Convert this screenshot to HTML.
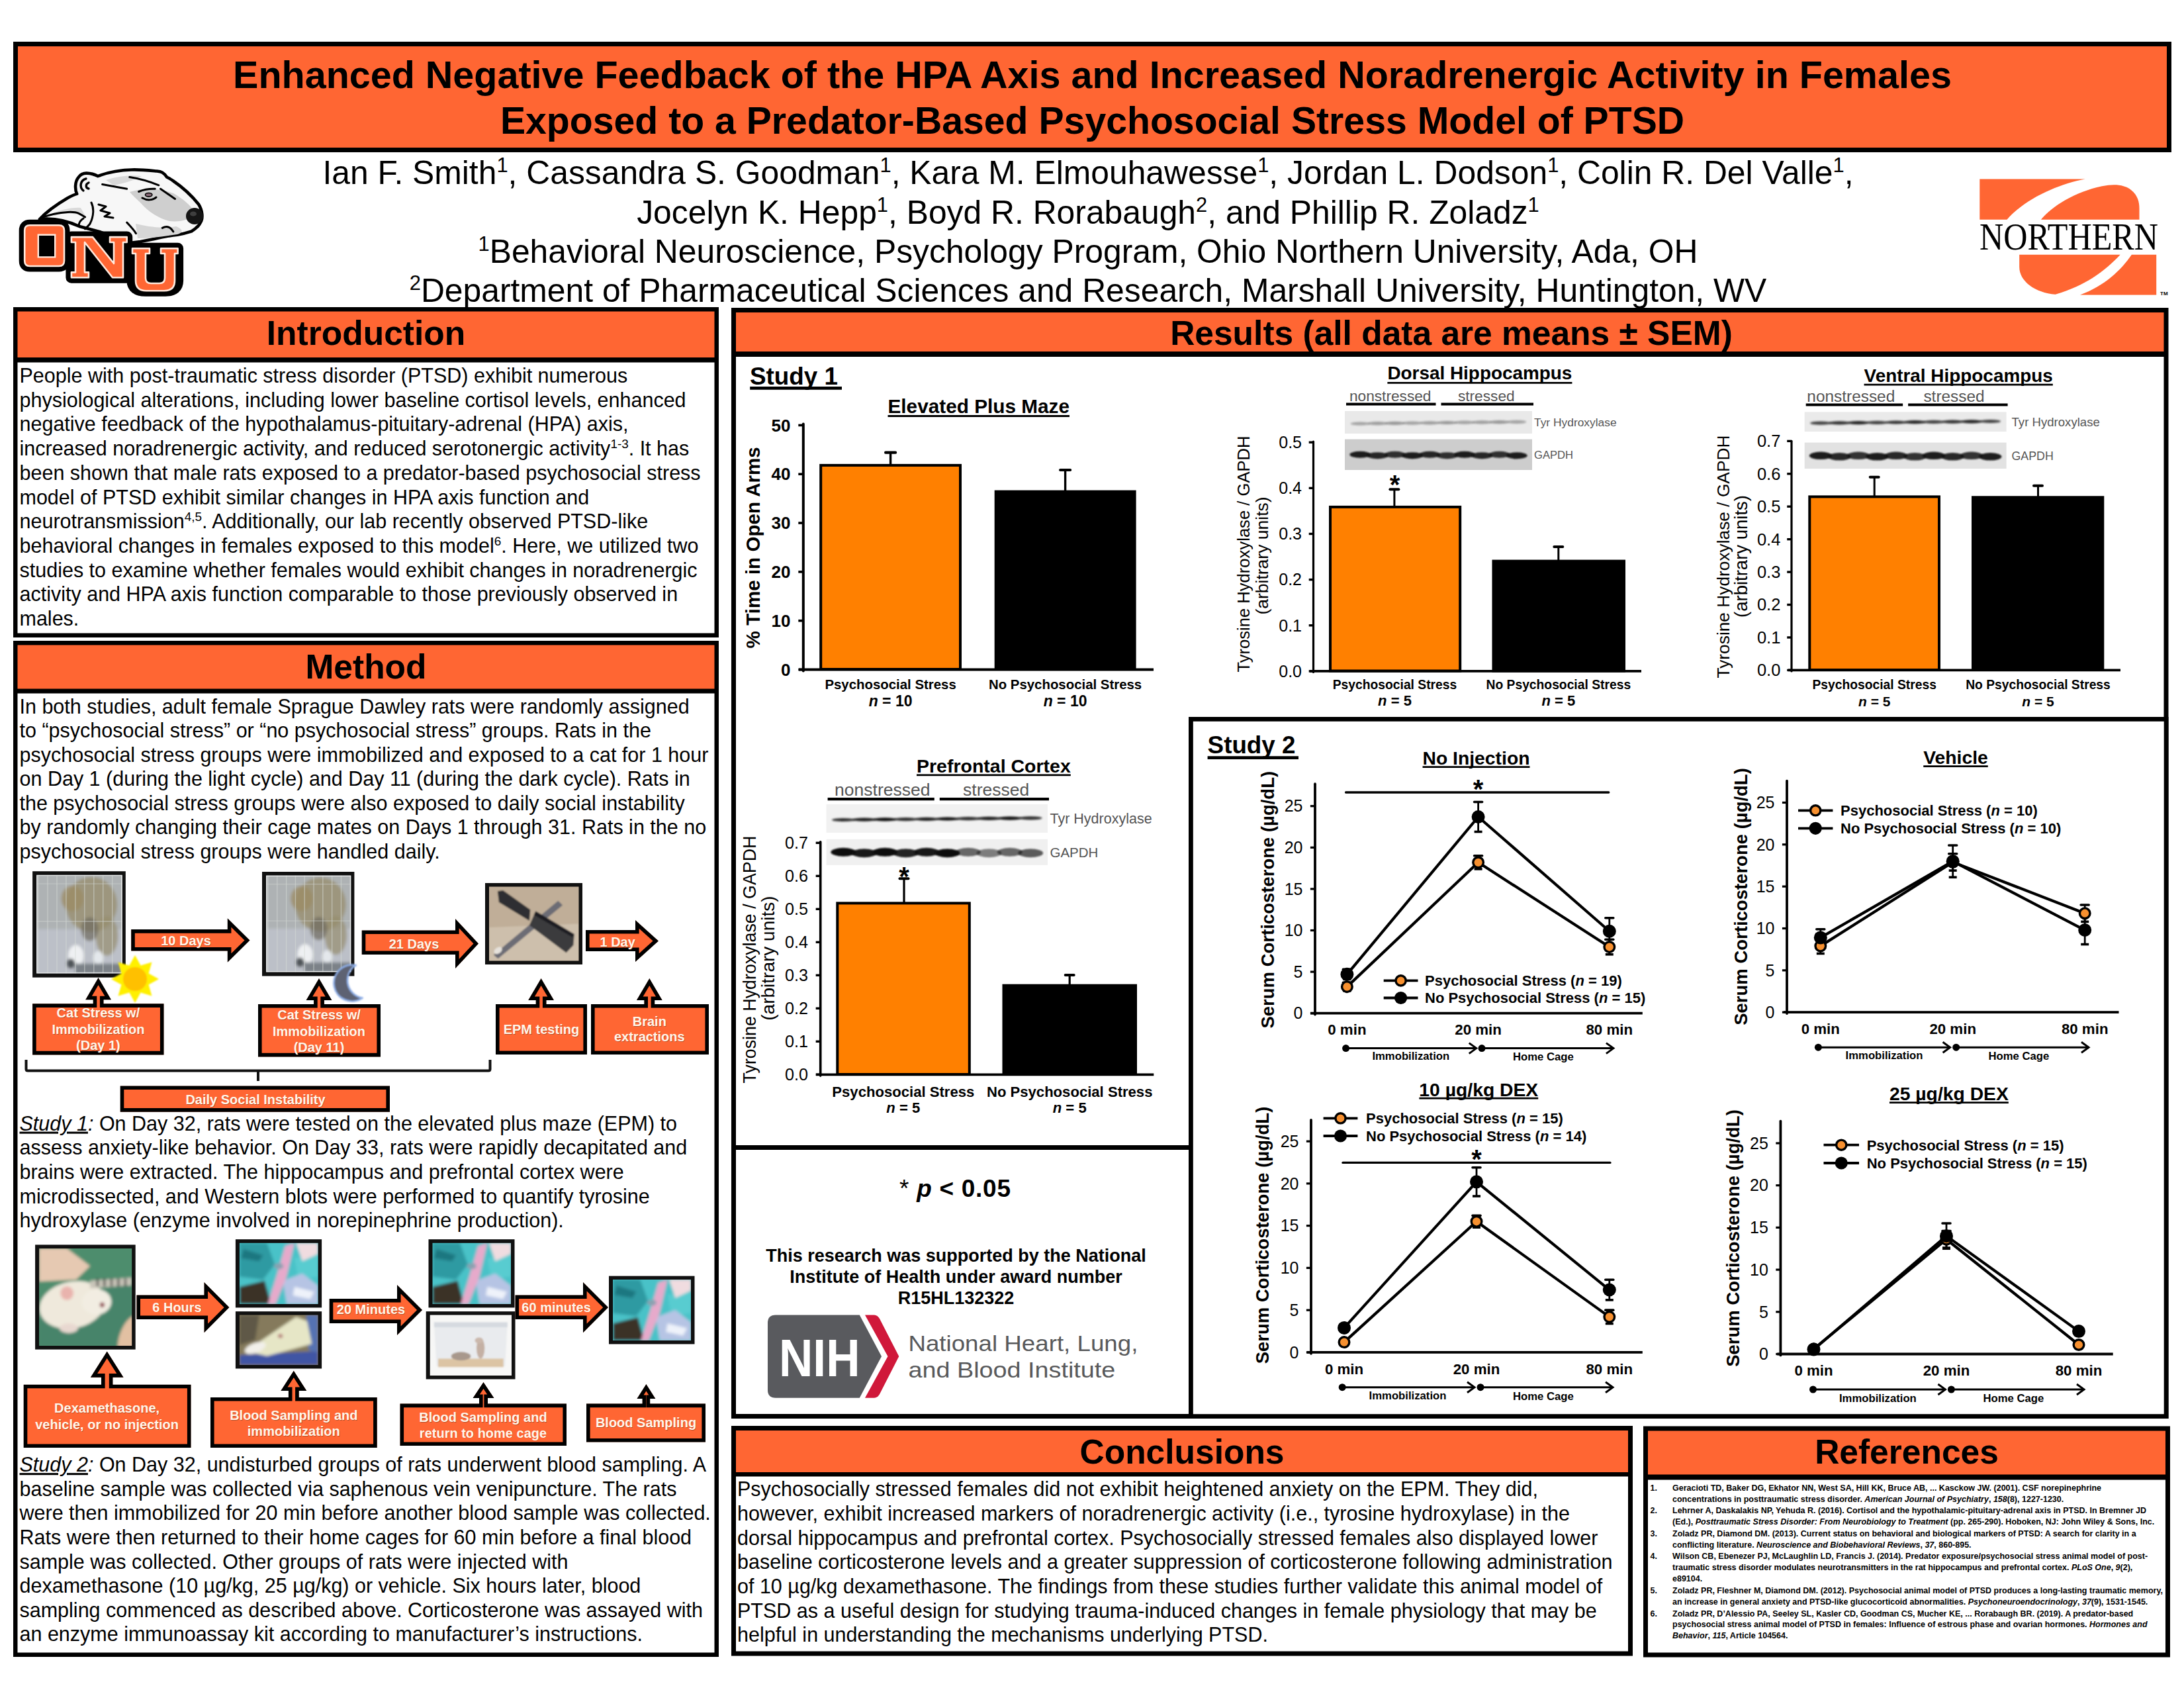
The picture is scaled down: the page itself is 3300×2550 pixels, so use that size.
<!DOCTYPE html>
<html><head><meta charset="utf-8"><title>Enhanced Negative Feedback of the HPA Axis - Poster</title>
<style>
html,body{margin:0;padding:0;background:#fff;}
body{width:3300px;height:2550px;overflow:hidden;font-family:"Liberation Sans",sans-serif;}
svg{display:block;}
text{font-family:"Liberation Sans",sans-serif;}
</style></head><body>
<svg width="3300" height="2550" viewBox="0 0 3300 2550" font-family="Liberation Sans, sans-serif">
<rect x="0" y="0" width="3300" height="2550" fill="#fff" />
<rect x="20" y="63" width="3261" height="167" fill="#000" />
<rect x="27" y="70" width="3247" height="153" fill="#FF6633" />
<text x="1650.5" y="133" font-size="57.5" font-weight="bold" text-anchor="middle" >Enhanced Negative Feedback of the HPA Axis and Increased Noradrenergic Activity in Females</text>
<text x="1650.5" y="201.5" font-size="57.2" font-weight="bold" text-anchor="middle" >Exposed to a Predator-Based Psychosocial Stress Model of PTSD</text>
<text x="1644" y="278" font-size="49.8" text-anchor="middle" >Ian F. Smith<tspan baseline-shift="17.93" font-size="30.88">1</tspan>, Cassandra S. Goodman<tspan baseline-shift="17.93" font-size="30.88">1</tspan>, Kara M. Elmouhawesse<tspan baseline-shift="17.93" font-size="30.88">1</tspan>, Jordan L. Dodson<tspan baseline-shift="17.93" font-size="30.88">1</tspan>, Colin R. Del Valle<tspan baseline-shift="17.93" font-size="30.88">1</tspan>,</text>
<text x="1644" y="337.5" font-size="49.8" text-anchor="middle" >Jocelyn K. Hepp<tspan baseline-shift="17.93" font-size="30.88">1</tspan>, Boyd R. Rorabaugh<tspan baseline-shift="17.93" font-size="30.88">2</tspan>, and Phillip R. Zoladz<tspan baseline-shift="17.93" font-size="30.88">1</tspan></text>
<text x="1644" y="397" font-size="49.8" text-anchor="middle" ><tspan baseline-shift="17.93" font-size="30.88">1</tspan>Behavioral Neuroscience, Psychology Program, Ohio Northern University, Ada, OH</text>
<text x="1644" y="456" font-size="49.8" text-anchor="middle" ><tspan baseline-shift="17.93" font-size="30.88">2</tspan>Department of Pharmaceutical Sciences and Research, Marshall University, Huntington, WV</text>
<rect x="20" y="464" width="1066" height="499" fill="#000" />
<rect x="26.5" y="470.5" width="1053" height="69.5" fill="#FF6633" />
<rect x="26.5" y="547.5" width="1053" height="409" fill="#fff" />
<text x="553" y="520.6" font-size="51.5" font-weight="bold" text-anchor="middle" >Introduction</text>
<rect x="20" y="968" width="1066" height="1535" fill="#000" />
<rect x="26.5" y="974.5" width="1053" height="66" fill="#FF6633" />
<rect x="26.5" y="1047.5" width="1053" height="1449" fill="#fff" />
<text x="553" y="1024.6" font-size="51.5" font-weight="bold" text-anchor="middle" >Method</text>
<rect x="1105" y="465" width="2171.5" height="1678" fill="#000" />
<rect x="1112" y="472" width="2157.5" height="59" fill="#FF6633" />
<rect x="1112" y="539" width="2157.5" height="1597" fill="#fff" />
<text x="2193" y="520.6" font-size="51.5" font-weight="bold" text-anchor="middle" >Results (all data are means ± SEM)</text>
<rect x="1105" y="2154" width="1362" height="347.5" fill="#000" />
<rect x="1112" y="2161" width="1348" height="63" fill="#FF6633" />
<rect x="1112" y="2230.5" width="1348" height="264" fill="#fff" />
<text x="1786" y="2211" font-size="51.5" font-weight="bold" text-anchor="middle" >Conclusions</text>
<rect x="2483" y="2154.5" width="796" height="349" fill="#000" />
<rect x="2490" y="2161.5" width="782" height="66" fill="#FF6633" />
<rect x="2490" y="2235.5" width="782" height="261" fill="#fff" />
<text x="2881" y="2211" font-size="51.5" font-weight="bold" text-anchor="middle" >References</text>
<rect x="1105" y="1730" width="697" height="7" fill="#000" />
<rect x="1799.4" y="1086.4" width="1473.7" height="1053.2" fill="#fff" stroke="#000" stroke-width="6.8" />
<text x="29.5" y="577.9" font-size="30.5" >People with post-traumatic stress disorder (PTSD) exhibit numerous</text>
<text x="29.5" y="614.62" font-size="30.5" >physiological alterations, including lower baseline cortisol levels, enhanced</text>
<text x="29.5" y="651.34" font-size="30.5" >negative feedback of the hypothalamus-pituitary-adrenal (HPA) axis,</text>
<text x="29.5" y="688.06" font-size="30.5" >increased noradrenergic activity, and reduced serotonergic activity<tspan baseline-shift="10.98" font-size="18.91">1-3</tspan>. It has</text>
<text x="29.5" y="724.78" font-size="30.5" >been shown that male rats exposed to a predator-based psychosocial stress</text>
<text x="29.5" y="761.5" font-size="30.5" >model of PTSD exhibit similar changes in HPA axis function and</text>
<text x="29.5" y="798.22" font-size="30.5" >neurotransmission<tspan baseline-shift="10.98" font-size="18.91">4,5</tspan>. Additionally, our lab recently observed PTSD-like</text>
<text x="29.5" y="834.94" font-size="30.5" >behavioral changes in females exposed to this model<tspan baseline-shift="10.98" font-size="18.91">6</tspan>. Here, we utilized two</text>
<text x="29.5" y="871.66" font-size="30.5" >studies to examine whether females would exhibit changes in noradrenergic</text>
<text x="29.5" y="908.38" font-size="30.5" >activity and HPA axis function comparable to those previously observed in</text>
<text x="29.5" y="945.1" font-size="30.5" >males.</text>
<text x="29.5" y="1077.8" font-size="30.5" >In both studies, adult female Sprague Dawley rats were randomly assigned</text>
<text x="29.5" y="1114.25" font-size="30.5" >to “psychosocial stress” or “no psychosocial stress” groups. Rats in the</text>
<text x="29.5" y="1150.7" font-size="30.5" >psychosocial stress groups were immobilized and exposed to a cat for 1 hour</text>
<text x="29.5" y="1187.15" font-size="30.5" >on Day 1 (during the light cycle) and Day 11 (during the dark cycle). Rats in</text>
<text x="29.5" y="1223.6" font-size="30.5" >the psychosocial stress groups were also exposed to daily social instability</text>
<text x="29.5" y="1260.05" font-size="30.5" >by randomly changing their cage mates on Days 1 through 31. Rats in the no</text>
<text x="29.5" y="1296.5" font-size="30.5" >psychosocial stress groups were handled daily.</text>
<text x="29.5" y="1707.6" font-size="30.5" ><tspan font-style="italic" text-decoration="underline">Study 1</tspan><tspan font-style="italic">:</tspan> On Day 32, rats were tested on the elevated plus maze (EPM) to</text>
<text x="29.5" y="1744.32" font-size="30.5" >assess anxiety-like behavior. On Day 33, rats were rapidly decapitated and</text>
<text x="29.5" y="1781.04" font-size="30.5" >brains were extracted. The hippocampus and prefrontal cortex were</text>
<text x="29.5" y="1817.76" font-size="30.5" >microdissected, and Western blots were performed to quantify tyrosine</text>
<text x="29.5" y="1854.48" font-size="30.5" >hydroxylase (enzyme involved in norepinephrine production).</text>
<text x="29.5" y="2223.2" font-size="30.5" ><tspan font-style="italic" text-decoration="underline">Study 2</tspan><tspan font-style="italic">:</tspan> On Day 32, undisturbed groups of rats underwent blood sampling. A</text>
<text x="29.5" y="2259.79" font-size="30.5" >baseline sample was collected via saphenous vein venipuncture. The rats</text>
<text x="29.5" y="2296.38" font-size="30.5" >were then immobilized for 20 min before another blood sample was collected.</text>
<text x="29.5" y="2332.97" font-size="30.5" >Rats were then returned to their home cages for 60 min before a final blood</text>
<text x="29.5" y="2369.56" font-size="30.5" >sample was collected. Other groups of rats were injected with</text>
<text x="29.5" y="2406.15" font-size="30.5" >dexamethasone (10 µg/kg, 25 µg/kg) or vehicle. Six hours later, blood</text>
<text x="29.5" y="2442.74" font-size="30.5" >sampling commenced as described above. Corticosterone was assayed with</text>
<text x="29.5" y="2479.33" font-size="30.5" >an enzyme immunoassay kit according to manufacturer’s instructions.</text>
<text x="1114" y="2260.4" font-size="30.5" >Psychosocially stressed females did not exhibit heightened anxiety on the EPM. They did,</text>
<text x="1114" y="2297.08" font-size="30.5" >however, exhibit increased markers of noradrenergic activity (i.e., tyrosine hydroxylase) in the</text>
<text x="1114" y="2333.76" font-size="30.5" >dorsal hippocampus and prefrontal cortex. Psychosocially stressed females also displayed lower</text>
<text x="1114" y="2370.44" font-size="30.5" >baseline corticosterone levels and a greater suppression of corticosterone following administration</text>
<text x="1114" y="2407.12" font-size="30.5" >of 10 µg/kg dexamethasone. The findings from these studies further validate this animal model of</text>
<text x="1114" y="2443.8" font-size="30.5" >PTSD as a useful design for studying trauma-induced changes in female physiology that may be</text>
<text x="1114" y="2480.48" font-size="30.5" >helpful in understanding the mechanisms underlying PTSD.</text>
<text x="2493.5" y="2251.8" font-size="12.5" font-weight="bold" >1.</text>
<text x="2527" y="2251.8" font-size="12.5" font-weight="bold" >Geracioti TD, Baker DG, Ekhator NN, West SA, Hill KK, Bruce AB, ... Kasckow JW. (2001). CSF norepinephrine</text>
<text x="2527" y="2268.75" font-size="12.5" font-weight="bold" >concentrations in posttraumatic stress disorder. <tspan font-style="italic">American Journal of Psychiatry</tspan>, <tspan font-style="italic">158</tspan>(8), 1227-1230.</text>
<text x="2493.5" y="2286.35" font-size="12.5" font-weight="bold" >2.</text>
<text x="2527" y="2286.35" font-size="12.5" font-weight="bold" >Lehrner A, Daskalakis NP, Yehuda R. (2016). Cortisol and the hypothalamic-pituitary-adrenal axis in PTSD. In Bremner JD</text>
<text x="2527" y="2303.3" font-size="12.5" font-weight="bold" >(Ed.), <tspan font-style="italic">Posttraumatic Stress Disorder: From Neurobiology to Treatment</tspan> (pp. 265-290). Hoboken, NJ: John Wiley &amp; Sons, Inc.</text>
<text x="2493.5" y="2320.9" font-size="12.5" font-weight="bold" >3.</text>
<text x="2527" y="2320.9" font-size="12.5" font-weight="bold" >Zoladz PR, Diamond DM. (2013). Current status on behavioral and biological markers of PTSD: A search for clarity in a</text>
<text x="2527" y="2337.85" font-size="12.5" font-weight="bold" >conflicting literature. <tspan font-style="italic">Neuroscience and Biobehavioral Reviews</tspan>, <tspan font-style="italic">37</tspan>, 860-895.</text>
<text x="2493.5" y="2355.45" font-size="12.5" font-weight="bold" >4.</text>
<text x="2527" y="2355.45" font-size="12.5" font-weight="bold" >Wilson CB, Ebenezer PJ, McLaughlin LD, Francis J. (2014). Predator exposure/psychosocial stress animal model of post-</text>
<text x="2527" y="2372.4" font-size="12.5" font-weight="bold" >traumatic stress disorder modulates neurotransmitters in the rat hippocampus and prefrontal cortex. <tspan font-style="italic">PLoS One</tspan>, <tspan font-style="italic">9</tspan>(2),</text>
<text x="2527" y="2389.35" font-size="12.5" font-weight="bold" >e89104.</text>
<text x="2493.5" y="2406.95" font-size="12.5" font-weight="bold" >5.</text>
<text x="2527" y="2406.95" font-size="12.5" font-weight="bold" >Zoladz PR, Fleshner M, Diamond DM. (2012). Psychosocial animal model of PTSD produces a long-lasting traumatic memory,</text>
<text x="2527" y="2423.9" font-size="12.5" font-weight="bold" >an increase in general anxiety and PTSD-like glucocorticoid abnormalities. <tspan font-style="italic">Psychoneuroendocrinology</tspan>, <tspan font-style="italic">37</tspan>(9), 1531-1545.</text>
<text x="2493.5" y="2441.5" font-size="12.5" font-weight="bold" >6.</text>
<text x="2527" y="2441.5" font-size="12.5" font-weight="bold" >Zoladz PR, D’Alessio PA, Seeley SL, Kasler CD, Goodman CS, Mucher KE, ... Rorabaugh BR. (2019). A predator-based</text>
<text x="2527" y="2458.45" font-size="12.5" font-weight="bold" >psychosocial stress animal model of PTSD in females: Influence of estrous phase and ovarian hormones. <tspan font-style="italic">Hormones and</tspan></text>
<text x="2527" y="2475.4" font-size="12.5" font-weight="bold" ><tspan font-style="italic">Behavior</tspan>, <tspan font-style="italic">115</tspan>, Article 104564.</text>
<defs><filter id="bl1" x="-5%" y="-50%" width="110%" height="200%"><feGaussianBlur stdDeviation="1.6"/></filter><filter id="bl2" x="-5%" y="-50%" width="110%" height="200%"><feGaussianBlur stdDeviation="1.0"/></filter></defs>
<text x="1133" y="580.8" font-size="36.8" font-weight="bold" >Study 1</text>
<line x1="1133.2" y1="586.4" x2="1272" y2="586.4" stroke="#000" stroke-width="4.6" />
<text x="1478.75" y="624" font-size="29.75" font-weight="bold" text-anchor="middle" >Elevated Plus Maze</text>
<line x1="1341.51" y1="628.6" x2="1615.99" y2="628.6" stroke="#000" stroke-width="3" />
<line x1="1213.8" y1="640.5" x2="1213.8" y2="1013.5" stroke="#000" stroke-width="4" stroke-linecap="round"/>
<line x1="1206.3" y1="1011.5" x2="1213.8" y2="1011.5" stroke="#000" stroke-width="3.6" />
<text x="1194.5" y="1020.6" font-size="26" font-weight="bold" text-anchor="end" >0</text>
<line x1="1206.3" y1="937.68" x2="1213.8" y2="937.68" stroke="#000" stroke-width="3.6" />
<text x="1194.5" y="946.78" font-size="26" font-weight="bold" text-anchor="end" >10</text>
<line x1="1206.3" y1="863.86" x2="1213.8" y2="863.86" stroke="#000" stroke-width="3.6" />
<text x="1194.5" y="872.96" font-size="26" font-weight="bold" text-anchor="end" >20</text>
<line x1="1206.3" y1="790.04" x2="1213.8" y2="790.04" stroke="#000" stroke-width="3.6" />
<text x="1194.5" y="799.14" font-size="26" font-weight="bold" text-anchor="end" >30</text>
<line x1="1206.3" y1="716.22" x2="1213.8" y2="716.22" stroke="#000" stroke-width="3.6" />
<text x="1194.5" y="725.32" font-size="26" font-weight="bold" text-anchor="end" >40</text>
<line x1="1206.3" y1="642.4" x2="1213.8" y2="642.4" stroke="#000" stroke-width="3.6" />
<text x="1194.5" y="651.5" font-size="26" font-weight="bold" text-anchor="end" >50</text>
<line x1="1207" y1="1011.5" x2="1743" y2="1011.5" stroke="#000" stroke-width="4" />
<line x1="1345.6" y1="683.7" x2="1345.6" y2="702" stroke="#000" stroke-width="3.4" />
<line x1="1338.1" y1="683.7" x2="1353.1" y2="683.7" stroke="#000" stroke-width="4.2" stroke-linecap="round"/>
<rect x="1240.2" y="702.9" width="210.8" height="308.1" fill="#FF8000" stroke="#000" stroke-width="4" />
<line x1="1609.6" y1="710" x2="1609.6" y2="741" stroke="#000" stroke-width="3.4" />
<line x1="1602.1" y1="710" x2="1617.1" y2="710" stroke="#000" stroke-width="4.2" stroke-linecap="round"/>
<rect x="1502.7" y="740.6" width="213.9" height="272.4" fill="#000" />
<text x="0" y="0" font-size="29.6" text-anchor="middle" transform="translate(1147.5 827.3) rotate(-90)" font-weight="bold">% Time in Open Arms</text>
<text x="1345.6" y="1040.8" font-size="20.4" font-weight="bold" text-anchor="middle" >Psychosocial Stress</text>
<text x="1345.6" y="1066.8" font-size="23" font-weight="bold" text-anchor="middle" ><tspan font-style="italic">n</tspan> = 10</text>
<text x="1609.6" y="1040.8" font-size="20.4" font-weight="bold" text-anchor="middle" >No Psychosocial Stress</text>
<text x="1609.6" y="1066.8" font-size="23" font-weight="bold" text-anchor="middle" ><tspan font-style="italic">n</tspan> = 10</text>
<text x="2235.9" y="573.3" font-size="27.9" font-weight="bold" text-anchor="middle" >Dorsal Hippocampus</text>
<line x1="2096.37" y1="578.3" x2="2375.43" y2="578.3" stroke="#000" stroke-width="2.8" />
<text x="2100.7" y="606" font-size="22.7" text-anchor="middle" fill="#555" >nonstressed</text>
<text x="2245.8" y="606" font-size="22.7" text-anchor="middle" fill="#555" >stressed</text>
<line x1="2034" y1="610.5" x2="2169.5" y2="610.5" stroke="#000" stroke-width="4.2" />
<line x1="2177.5" y1="610.5" x2="2317" y2="610.5" stroke="#000" stroke-width="4.2" />
<rect x="2032" y="621" width="283" height="34" fill="#e9e9e9" />
<ellipse cx="2055.15" cy="640" rx="14.47" ry="2.6" fill="#000" opacity="0.3" filter="url(#bl1)"/>
<ellipse cx="2081.45" cy="639.7" rx="14.47" ry="2.6" fill="#000" opacity="0.32" filter="url(#bl1)"/>
<ellipse cx="2107.75" cy="639.4" rx="14.47" ry="2.6" fill="#000" opacity="0.35" filter="url(#bl1)"/>
<ellipse cx="2134.05" cy="639.1" rx="14.47" ry="2.6" fill="#000" opacity="0.3" filter="url(#bl1)"/>
<ellipse cx="2160.35" cy="638.8" rx="14.47" ry="2.6" fill="#000" opacity="0.32" filter="url(#bl1)"/>
<ellipse cx="2186.65" cy="638.5" rx="14.47" ry="2.6" fill="#000" opacity="0.35" filter="url(#bl1)"/>
<ellipse cx="2212.95" cy="638.2" rx="14.47" ry="2.6" fill="#000" opacity="0.3" filter="url(#bl1)"/>
<ellipse cx="2239.25" cy="637.9" rx="14.47" ry="2.6" fill="#000" opacity="0.32" filter="url(#bl1)"/>
<ellipse cx="2265.55" cy="637.6" rx="14.47" ry="2.6" fill="#000" opacity="0.35" filter="url(#bl1)"/>
<ellipse cx="2291.85" cy="637.3" rx="14.47" ry="2.6" fill="#000" opacity="0.3" filter="url(#bl1)"/>
<rect x="2032" y="663.5" width="283" height="46.5" fill="#cdcdcd" />
<ellipse cx="2055.15" cy="686.75" rx="15.78" ry="5" fill="#111" opacity="0.92" filter="url(#bl2)"/>
<ellipse cx="2081.45" cy="688.25" rx="15.78" ry="5" fill="#111" opacity="0.87" filter="url(#bl2)"/>
<ellipse cx="2107.75" cy="686.75" rx="15.78" ry="5" fill="#111" opacity="0.82" filter="url(#bl2)"/>
<ellipse cx="2134.05" cy="688.25" rx="15.78" ry="5" fill="#111" opacity="0.92" filter="url(#bl2)"/>
<ellipse cx="2160.35" cy="686.75" rx="15.78" ry="5" fill="#111" opacity="0.87" filter="url(#bl2)"/>
<ellipse cx="2186.65" cy="688.25" rx="15.78" ry="5" fill="#111" opacity="0.82" filter="url(#bl2)"/>
<ellipse cx="2212.95" cy="686.75" rx="15.78" ry="5" fill="#111" opacity="0.92" filter="url(#bl2)"/>
<ellipse cx="2239.25" cy="688.25" rx="15.78" ry="5" fill="#111" opacity="0.87" filter="url(#bl2)"/>
<ellipse cx="2265.55" cy="686.75" rx="15.78" ry="5" fill="#111" opacity="0.82" filter="url(#bl2)"/>
<ellipse cx="2291.85" cy="688.25" rx="15.78" ry="5" fill="#111" opacity="0.92" filter="url(#bl2)"/>
<text x="2318" y="644.26" font-size="17.4" fill="#555" >Tyr Hydroxylase</text>
<text x="2318" y="692.73" font-size="16.6" fill="#555" >GAPDH</text>
<line x1="1984.5" y1="667" x2="1984.5" y2="1015.5" stroke="#000" stroke-width="3.2" stroke-linecap="round"/>
<line x1="1977.7" y1="1013.9" x2="1984.5" y2="1013.9" stroke="#000" stroke-width="3.4" />
<text x="1967" y="1022.65" font-size="25" text-anchor="end" >0.0</text>
<line x1="1977.7" y1="944.76" x2="1984.5" y2="944.76" stroke="#000" stroke-width="3.4" />
<text x="1967" y="953.51" font-size="25" text-anchor="end" >0.1</text>
<line x1="1977.7" y1="875.62" x2="1984.5" y2="875.62" stroke="#000" stroke-width="3.4" />
<text x="1967" y="884.37" font-size="25" text-anchor="end" >0.2</text>
<line x1="1977.7" y1="806.48" x2="1984.5" y2="806.48" stroke="#000" stroke-width="3.4" />
<text x="1967" y="815.23" font-size="25" text-anchor="end" >0.3</text>
<line x1="1977.7" y1="737.34" x2="1984.5" y2="737.34" stroke="#000" stroke-width="3.4" />
<text x="1967" y="746.09" font-size="25" text-anchor="end" >0.4</text>
<line x1="1977.7" y1="668.2" x2="1984.5" y2="668.2" stroke="#000" stroke-width="3.4" />
<text x="1967" y="676.95" font-size="25" text-anchor="end" >0.5</text>
<line x1="1978.8" y1="1013.9" x2="2480" y2="1013.9" stroke="#000" stroke-width="3.6" />
<line x1="2106.9" y1="739.2" x2="2106.9" y2="765" stroke="#000" stroke-width="3" />
<line x1="2100.4" y1="739.2" x2="2113.4" y2="739.2" stroke="#000" stroke-width="4" stroke-linecap="round"/>
<rect x="2010" y="765.9" width="196.2" height="247.6" fill="#FF8000" stroke="#000" stroke-width="4" />
<line x1="2354.8" y1="826" x2="2354.8" y2="846" stroke="#000" stroke-width="3" />
<line x1="2348.3" y1="826" x2="2361.3" y2="826" stroke="#000" stroke-width="4" stroke-linecap="round"/>
<rect x="2254.5" y="845.6" width="201.5" height="169.9" fill="#000" />
<text x="2107.5" y="745.8" font-size="40" font-weight="bold" text-anchor="middle" >*</text>
<text x="0" y="0" font-size="25.6" text-anchor="middle" transform="translate(1888 837) rotate(-90)">Tyrosine Hydroxylase / GAPDH</text>
<text x="0" y="0" font-size="26.5" text-anchor="middle" transform="translate(1915.5 839.5) rotate(-90)">(arbitrary units)</text>
<text x="2107.5" y="1041" font-size="19.3" font-weight="bold" text-anchor="middle" >Psychosocial Stress</text>
<text x="2107.5" y="1066.3" font-size="22" font-weight="bold" text-anchor="middle" ><tspan font-style="italic">n</tspan> = 5</text>
<text x="2354.8" y="1041" font-size="19.3" font-weight="bold" text-anchor="middle" >No Psychosocial Stress</text>
<text x="2354.8" y="1066.3" font-size="22" font-weight="bold" text-anchor="middle" ><tspan font-style="italic">n</tspan> = 5</text>
<text x="2959.2" y="577" font-size="27.9" font-weight="bold" text-anchor="middle" >Ventral Hippocampus</text>
<line x1="2816.56" y1="581.2" x2="3101.84" y2="581.2" stroke="#000" stroke-width="2.8" />
<text x="2796.8" y="607" font-size="24.4" text-anchor="middle" fill="#555" >nonstressed</text>
<text x="2952.5" y="607" font-size="24.4" text-anchor="middle" fill="#555" >stressed</text>
<line x1="2728.7" y1="611.5" x2="2875.15" y2="611.5" stroke="#000" stroke-width="4.2" />
<line x1="2883.15" y1="611.5" x2="3033.6" y2="611.5" stroke="#000" stroke-width="4.2" />
<rect x="2726.7" y="622.4" width="304.9" height="29.6" fill="#eaeaea" />
<ellipse cx="2750.94" cy="639.2" rx="15.67" ry="2.6" fill="#000" opacity="0.72" filter="url(#bl1)"/>
<ellipse cx="2779.43" cy="638.9" rx="15.67" ry="2.6" fill="#000" opacity="0.79" filter="url(#bl1)"/>
<ellipse cx="2807.92" cy="638.6" rx="15.67" ry="2.6" fill="#000" opacity="0.85" filter="url(#bl1)"/>
<ellipse cx="2836.41" cy="638.3" rx="15.67" ry="2.6" fill="#000" opacity="0.72" filter="url(#bl1)"/>
<ellipse cx="2864.9" cy="638" rx="15.67" ry="2.6" fill="#000" opacity="0.79" filter="url(#bl1)"/>
<ellipse cx="2893.39" cy="637.7" rx="15.67" ry="2.6" fill="#000" opacity="0.85" filter="url(#bl1)"/>
<ellipse cx="2921.88" cy="637.4" rx="15.67" ry="2.6" fill="#000" opacity="0.72" filter="url(#bl1)"/>
<ellipse cx="2950.38" cy="637.1" rx="15.67" ry="2.6" fill="#000" opacity="0.79" filter="url(#bl1)"/>
<ellipse cx="2978.86" cy="636.8" rx="15.67" ry="2.6" fill="#000" opacity="0.85" filter="url(#bl1)"/>
<ellipse cx="3007.35" cy="636.5" rx="15.67" ry="2.6" fill="#000" opacity="0.72" filter="url(#bl1)"/>
<rect x="2726.7" y="668.6" width="304.9" height="39.4" fill="#e2e2e2" />
<ellipse cx="2750.94" cy="688.3" rx="17.09" ry="5.8" fill="#111" opacity="0.92" filter="url(#bl2)"/>
<ellipse cx="2779.43" cy="689.8" rx="17.09" ry="5.8" fill="#111" opacity="0.87" filter="url(#bl2)"/>
<ellipse cx="2807.92" cy="688.3" rx="17.09" ry="5.8" fill="#111" opacity="0.82" filter="url(#bl2)"/>
<ellipse cx="2836.41" cy="689.8" rx="17.09" ry="5.8" fill="#111" opacity="0.92" filter="url(#bl2)"/>
<ellipse cx="2864.9" cy="688.3" rx="17.09" ry="5.8" fill="#111" opacity="0.87" filter="url(#bl2)"/>
<ellipse cx="2893.39" cy="689.8" rx="17.09" ry="5.8" fill="#111" opacity="0.82" filter="url(#bl2)"/>
<ellipse cx="2921.88" cy="688.3" rx="17.09" ry="5.8" fill="#111" opacity="0.92" filter="url(#bl2)"/>
<ellipse cx="2950.38" cy="689.8" rx="17.09" ry="5.8" fill="#111" opacity="0.87" filter="url(#bl2)"/>
<ellipse cx="2978.86" cy="688.3" rx="17.09" ry="5.8" fill="#111" opacity="0.82" filter="url(#bl2)"/>
<ellipse cx="3007.35" cy="689.8" rx="17.09" ry="5.8" fill="#111" opacity="0.92" filter="url(#bl2)"/>
<text x="3039.5" y="643.9" font-size="18.6" fill="#555" >Tyr Hydroxylase</text>
<text x="3039.5" y="694.71" font-size="17.8" fill="#555" >GAPDH</text>
<line x1="2707" y1="666.3" x2="2707" y2="1014" stroke="#000" stroke-width="3.2" stroke-linecap="round"/>
<line x1="2700.2" y1="1012.4" x2="2707" y2="1012.4" stroke="#000" stroke-width="3.4" />
<text x="2690.4" y="1021.32" font-size="25.5" text-anchor="end" >0.0</text>
<line x1="2700.2" y1="962.96" x2="2707" y2="962.96" stroke="#000" stroke-width="3.4" />
<text x="2690.4" y="971.88" font-size="25.5" text-anchor="end" >0.1</text>
<line x1="2700.2" y1="913.52" x2="2707" y2="913.52" stroke="#000" stroke-width="3.4" />
<text x="2690.4" y="922.44" font-size="25.5" text-anchor="end" >0.2</text>
<line x1="2700.2" y1="864.08" x2="2707" y2="864.08" stroke="#000" stroke-width="3.4" />
<text x="2690.4" y="873" font-size="25.5" text-anchor="end" >0.3</text>
<line x1="2700.2" y1="814.64" x2="2707" y2="814.64" stroke="#000" stroke-width="3.4" />
<text x="2690.4" y="823.56" font-size="25.5" text-anchor="end" >0.4</text>
<line x1="2700.2" y1="765.2" x2="2707" y2="765.2" stroke="#000" stroke-width="3.4" />
<text x="2690.4" y="774.12" font-size="25.5" text-anchor="end" >0.5</text>
<line x1="2700.2" y1="715.76" x2="2707" y2="715.76" stroke="#000" stroke-width="3.4" />
<text x="2690.4" y="724.68" font-size="25.5" text-anchor="end" >0.6</text>
<line x1="2700.2" y1="666.32" x2="2707" y2="666.32" stroke="#000" stroke-width="3.4" />
<text x="2690.4" y="675.24" font-size="25.5" text-anchor="end" >0.7</text>
<line x1="2702" y1="1012.4" x2="3204" y2="1012.4" stroke="#000" stroke-width="3.6" />
<line x1="2832.2" y1="720.7" x2="2832.2" y2="749" stroke="#000" stroke-width="3" />
<line x1="2825.7" y1="720.7" x2="2838.7" y2="720.7" stroke="#000" stroke-width="4" stroke-linecap="round"/>
<rect x="2734.3" y="750.4" width="195.7" height="261.6" fill="#FF8000" stroke="#000" stroke-width="4" />
<line x1="3079.5" y1="733.8" x2="3079.5" y2="750" stroke="#000" stroke-width="3" />
<line x1="3073" y1="733.8" x2="3086" y2="733.8" stroke="#000" stroke-width="4" stroke-linecap="round"/>
<rect x="2979" y="749.3" width="200.3" height="264.7" fill="#000" />
<text x="0" y="0" font-size="26.3" text-anchor="middle" transform="translate(2613 841) rotate(-90)">Tyrosine Hydroxylase / GAPDH</text>
<text x="0" y="0" font-size="27.5" text-anchor="middle" transform="translate(2640 840.5) rotate(-90)">(arbitrary units)</text>
<text x="2832.2" y="1041" font-size="19.3" font-weight="bold" text-anchor="middle" >Psychosocial Stress</text>
<text x="2832.2" y="1067" font-size="21" font-weight="bold" text-anchor="middle" ><tspan font-style="italic">n</tspan> = 5</text>
<text x="3079.5" y="1041" font-size="19.3" font-weight="bold" text-anchor="middle" >No Psychosocial Stress</text>
<text x="3079.5" y="1067" font-size="21" font-weight="bold" text-anchor="middle" ><tspan font-style="italic">n</tspan> = 5</text>
<text x="1501.4" y="1167" font-size="28.5" font-weight="bold" text-anchor="middle" >Prefrontal Cortex</text>
<line x1="1385" y1="1170.8" x2="1617.8" y2="1170.8" stroke="#000" stroke-width="2.8" />
<text x="1333.3" y="1202" font-size="26.5" text-anchor="middle" fill="#555" >nonstressed</text>
<text x="1505.2" y="1202" font-size="26.5" text-anchor="middle" fill="#555" >stressed</text>
<line x1="1250.6" y1="1207.2" x2="1411.8" y2="1207.2" stroke="#000" stroke-width="4.2" />
<line x1="1419.8" y1="1207.2" x2="1585" y2="1207.2" stroke="#000" stroke-width="4.2" />
<rect x="1248.6" y="1215" width="334.4" height="43" fill="#f1f1f1" />
<ellipse cx="1274.32" cy="1238.5" rx="17.29" ry="2.6" fill="#000" opacity="0.81" filter="url(#bl1)"/>
<ellipse cx="1305.76" cy="1238.2" rx="17.29" ry="2.6" fill="#000" opacity="0.88" filter="url(#bl1)"/>
<ellipse cx="1337.2" cy="1237.9" rx="17.29" ry="2.6" fill="#000" opacity="0.95" filter="url(#bl1)"/>
<ellipse cx="1368.64" cy="1237.6" rx="17.29" ry="2.6" fill="#000" opacity="0.81" filter="url(#bl1)"/>
<ellipse cx="1400.08" cy="1237.3" rx="17.29" ry="2.6" fill="#000" opacity="0.88" filter="url(#bl1)"/>
<ellipse cx="1431.52" cy="1237" rx="17.29" ry="2.6" fill="#000" opacity="0.95" filter="url(#bl1)"/>
<ellipse cx="1462.96" cy="1236.7" rx="17.29" ry="2.6" fill="#000" opacity="0.81" filter="url(#bl1)"/>
<ellipse cx="1494.4" cy="1236.4" rx="17.29" ry="2.6" fill="#000" opacity="0.88" filter="url(#bl1)"/>
<ellipse cx="1525.84" cy="1236.1" rx="17.29" ry="2.6" fill="#000" opacity="0.95" filter="url(#bl1)"/>
<ellipse cx="1557.28" cy="1235.8" rx="17.29" ry="2.6" fill="#000" opacity="0.81" filter="url(#bl1)"/>
<rect x="1248.6" y="1267.7" width="334.4" height="39.1" fill="#f0f0f0" />
<ellipse cx="1274.32" cy="1287.25" rx="18.86" ry="6.5" fill="#111" opacity="1" filter="url(#bl2)"/>
<ellipse cx="1305.76" cy="1288.75" rx="18.86" ry="6.5" fill="#111" opacity="0.95" filter="url(#bl2)"/>
<ellipse cx="1337.2" cy="1287.25" rx="18.86" ry="6.5" fill="#111" opacity="1" filter="url(#bl2)"/>
<ellipse cx="1368.64" cy="1288.75" rx="18.86" ry="6.5" fill="#111" opacity="0.9" filter="url(#bl2)"/>
<ellipse cx="1400.08" cy="1287.25" rx="18.86" ry="6.5" fill="#111" opacity="0.95" filter="url(#bl2)"/>
<ellipse cx="1431.52" cy="1288.75" rx="18.86" ry="6.5" fill="#111" opacity="1" filter="url(#bl2)"/>
<ellipse cx="1462.96" cy="1287.25" rx="18.86" ry="6.5" fill="#111" opacity="0.6" filter="url(#bl2)"/>
<ellipse cx="1494.4" cy="1288.75" rx="18.86" ry="6.5" fill="#111" opacity="0.5" filter="url(#bl2)"/>
<ellipse cx="1525.84" cy="1287.25" rx="18.86" ry="6.5" fill="#111" opacity="0.6" filter="url(#bl2)"/>
<ellipse cx="1557.28" cy="1288.75" rx="18.86" ry="6.5" fill="#111" opacity="0.65" filter="url(#bl2)"/>
<text x="1586.5" y="1244.24" font-size="21.5" fill="#555" >Tyr Hydroxylase</text>
<text x="1586.5" y="1294.63" font-size="20.5" fill="#555" >GAPDH</text>
<line x1="1239.7" y1="1271.8" x2="1239.7" y2="1625.1" stroke="#000" stroke-width="3.6" stroke-linecap="round"/>
<line x1="1232.7" y1="1623.3" x2="1239.7" y2="1623.3" stroke="#000" stroke-width="3.4" />
<text x="1221.1" y="1632.12" font-size="25.2" text-anchor="end" >0.0</text>
<line x1="1232.7" y1="1573.3" x2="1239.7" y2="1573.3" stroke="#000" stroke-width="3.4" />
<text x="1221.1" y="1582.12" font-size="25.2" text-anchor="end" >0.1</text>
<line x1="1232.7" y1="1523.3" x2="1239.7" y2="1523.3" stroke="#000" stroke-width="3.4" />
<text x="1221.1" y="1532.12" font-size="25.2" text-anchor="end" >0.2</text>
<line x1="1232.7" y1="1473.3" x2="1239.7" y2="1473.3" stroke="#000" stroke-width="3.4" />
<text x="1221.1" y="1482.12" font-size="25.2" text-anchor="end" >0.3</text>
<line x1="1232.7" y1="1423.3" x2="1239.7" y2="1423.3" stroke="#000" stroke-width="3.4" />
<text x="1221.1" y="1432.12" font-size="25.2" text-anchor="end" >0.4</text>
<line x1="1232.7" y1="1373.3" x2="1239.7" y2="1373.3" stroke="#000" stroke-width="3.4" />
<text x="1221.1" y="1382.12" font-size="25.2" text-anchor="end" >0.5</text>
<line x1="1232.7" y1="1323.3" x2="1239.7" y2="1323.3" stroke="#000" stroke-width="3.4" />
<text x="1221.1" y="1332.12" font-size="25.2" text-anchor="end" >0.6</text>
<line x1="1232.7" y1="1273.3" x2="1239.7" y2="1273.3" stroke="#000" stroke-width="3.4" />
<text x="1221.1" y="1282.12" font-size="25.2" text-anchor="end" >0.7</text>
<line x1="1233" y1="1623.3" x2="1743.3" y2="1623.3" stroke="#000" stroke-width="3.8" />
<line x1="1366" y1="1327.2" x2="1366" y2="1363" stroke="#000" stroke-width="3.2" />
<line x1="1359.5" y1="1327.2" x2="1372.5" y2="1327.2" stroke="#000" stroke-width="4" stroke-linecap="round"/>
<rect x="1265.3" y="1364.4" width="199.5" height="258.6" fill="#FF8000" stroke="#000" stroke-width="4" />
<line x1="1616.2" y1="1473" x2="1616.2" y2="1487" stroke="#000" stroke-width="3.2" />
<line x1="1609.7" y1="1473" x2="1622.7" y2="1473" stroke="#000" stroke-width="4" stroke-linecap="round"/>
<rect x="1514.5" y="1486.7" width="203.5" height="138.3" fill="#000" />
<text x="1366" y="1337.8" font-size="40" font-weight="bold" text-anchor="middle" >*</text>
<text x="0" y="0" font-size="26.8" text-anchor="middle" transform="translate(1142 1449.5) rotate(-90)">Tyrosine Hydroxylase / GAPDH</text>
<text x="0" y="0" font-size="28" text-anchor="middle" transform="translate(1170 1447.6) rotate(-90)">(arbitrary units)</text>
<text x="1364.8" y="1656.5" font-size="22.1" font-weight="bold" text-anchor="middle" >Psychosocial Stress</text>
<text x="1364.8" y="1680.5" font-size="22.1" font-weight="bold" text-anchor="middle" ><tspan font-style="italic">n</tspan> = 5</text>
<text x="1616.2" y="1656.5" font-size="22.1" font-weight="bold" text-anchor="middle" >No Psychosocial Stress</text>
<text x="1616.2" y="1680.5" font-size="22.1" font-weight="bold" text-anchor="middle" ><tspan font-style="italic">n</tspan> = 5</text>
<text x="1824.6" y="1137.9" font-size="36.8" font-weight="bold" >Study 2</text>
<line x1="1824.6" y1="1144.6" x2="1962" y2="1144.6" stroke="#000" stroke-width="4.6" />
<text x="2230.5" y="1155" font-size="28.3" font-weight="bold" text-anchor="middle" >No Injection</text>
<line x1="2149.53" y1="1158.6" x2="2311.47" y2="1158.6" stroke="#000" stroke-width="2.8" />
<line x1="1987" y1="1184.2" x2="1987" y2="1532.6" stroke="#000" stroke-width="3.8" stroke-linecap="round"/>
<line x1="1979.9" y1="1530.7" x2="1987" y2="1530.7" stroke="#000" stroke-width="3.2" />
<text x="1968.5" y="1539.45" font-size="25" text-anchor="end" >0</text>
<line x1="1979.9" y1="1468.1" x2="1987" y2="1468.1" stroke="#000" stroke-width="3.2" />
<text x="1968.5" y="1476.85" font-size="25" text-anchor="end" >5</text>
<line x1="1979.9" y1="1405.5" x2="1987" y2="1405.5" stroke="#000" stroke-width="3.2" />
<text x="1968.5" y="1414.25" font-size="25" text-anchor="end" >10</text>
<line x1="1979.9" y1="1342.9" x2="1987" y2="1342.9" stroke="#000" stroke-width="3.2" />
<text x="1968.5" y="1351.65" font-size="25" text-anchor="end" >15</text>
<line x1="1979.9" y1="1280.3" x2="1987" y2="1280.3" stroke="#000" stroke-width="3.2" />
<text x="1968.5" y="1289.05" font-size="25" text-anchor="end" >20</text>
<line x1="1979.9" y1="1217.7" x2="1987" y2="1217.7" stroke="#000" stroke-width="3.2" />
<text x="1968.5" y="1226.45" font-size="25" text-anchor="end" >25</text>
<line x1="1980" y1="1530.7" x2="2481.8" y2="1530.7" stroke="#000" stroke-width="3.8" />
<line x1="2035.4" y1="1464.34" x2="2035.4" y2="1479.37" stroke="#000" stroke-width="2.8" />
<line x1="2029.4" y1="1464.34" x2="2041.4" y2="1464.34" stroke="#000" stroke-width="3.6" stroke-linecap="round"/>
<line x1="2029.4" y1="1479.37" x2="2041.4" y2="1479.37" stroke="#000" stroke-width="3.6" />
<line x1="2233.6" y1="1211.44" x2="2233.6" y2="1256.51" stroke="#000" stroke-width="2.8" />
<line x1="2227.6" y1="1211.44" x2="2239.6" y2="1211.44" stroke="#000" stroke-width="3.6" stroke-linecap="round"/>
<line x1="2227.6" y1="1256.51" x2="2239.6" y2="1256.51" stroke="#000" stroke-width="3.6" />
<line x1="2431.8" y1="1386.72" x2="2431.8" y2="1426.78" stroke="#000" stroke-width="2.8" />
<line x1="2425.8" y1="1386.72" x2="2437.8" y2="1386.72" stroke="#000" stroke-width="3.6" stroke-linecap="round"/>
<line x1="2425.8" y1="1426.78" x2="2437.8" y2="1426.78" stroke="#000" stroke-width="3.6" />
<line x1="2035.4" y1="1484.38" x2="2035.4" y2="1496.9" stroke="#000" stroke-width="2.8" />
<line x1="2029.4" y1="1484.38" x2="2041.4" y2="1484.38" stroke="#000" stroke-width="3.6" stroke-linecap="round"/>
<line x1="2029.4" y1="1496.9" x2="2041.4" y2="1496.9" stroke="#000" stroke-width="3.6" />
<line x1="2233.6" y1="1292.82" x2="2233.6" y2="1312.85" stroke="#000" stroke-width="2.8" />
<line x1="2227.6" y1="1292.82" x2="2239.6" y2="1292.82" stroke="#000" stroke-width="3.6" stroke-linecap="round"/>
<line x1="2227.6" y1="1312.85" x2="2239.6" y2="1312.85" stroke="#000" stroke-width="3.6" />
<line x1="2431.8" y1="1419.27" x2="2431.8" y2="1441.81" stroke="#000" stroke-width="2.8" />
<line x1="2425.8" y1="1419.27" x2="2437.8" y2="1419.27" stroke="#000" stroke-width="3.6" stroke-linecap="round"/>
<line x1="2425.8" y1="1441.81" x2="2437.8" y2="1441.81" stroke="#000" stroke-width="3.6" />
<polyline points="2035.4,1490.64 2233.6,1302.84 2431.8,1430.54" fill="none" stroke="#000" stroke-width="4.2" stroke-linejoin="round"/>
<polyline points="2035.4,1471.86 2233.6,1233.98 2431.8,1406.75" fill="none" stroke="#000" stroke-width="4.2" stroke-linejoin="round"/>
<circle cx="2035.4" cy="1490.64" r="7.8" fill="#F7902F" stroke="#000" stroke-width="3.4"/>
<circle cx="2233.6" cy="1302.84" r="7.8" fill="#F7902F" stroke="#000" stroke-width="3.4"/>
<circle cx="2431.8" cy="1430.54" r="7.8" fill="#F7902F" stroke="#000" stroke-width="3.4"/>
<circle cx="2035.4" cy="1471.86" r="10" fill="#000"/>
<circle cx="2233.6" cy="1233.98" r="10" fill="#000"/>
<circle cx="2431.8" cy="1406.75" r="10" fill="#000"/>
<line x1="2033.6" y1="1197" x2="2430.7" y2="1197" stroke="#000" stroke-width="3.4" stroke-linecap="round"/>
<text x="2233.6" y="1205.8" font-size="40" font-weight="bold" text-anchor="middle" >*</text>
<line x1="2090.7" y1="1481.4" x2="2142.5" y2="1481.4" stroke="#000" stroke-width="3.8" />
<circle cx="2116.6" cy="1481.4" r="7.6" fill="#F7902F" stroke="#000" stroke-width="3.4"/>
<line x1="2090.7" y1="1507.5" x2="2142.5" y2="1507.5" stroke="#000" stroke-width="3.8" />
<circle cx="2116.6" cy="1507.5" r="9.6" fill="#000"/>
<text x="2153" y="1489.2" font-size="22" font-weight="bold" >Psychosocial Stress (<tspan font-style="italic">n</tspan> = 19)</text>
<text x="2153" y="1515.3" font-size="22" font-weight="bold" >No Psychosocial Stress (<tspan font-style="italic">n</tspan> = 15)</text>
<text x="2035.4" y="1563" font-size="22.3" font-weight="bold" text-anchor="middle" >0 min</text>
<text x="2233.6" y="1563" font-size="22.3" font-weight="bold" text-anchor="middle" >20 min</text>
<text x="2431.8" y="1563" font-size="22.3" font-weight="bold" text-anchor="middle" >80 min</text>
<circle cx="2033.6" cy="1583.6" r="5.5" fill="#000"/>
<circle cx="2239" cy="1583.6" r="5.5" fill="#000"/>
<line x1="2033.6" y1="1583.6" x2="2230.7" y2="1583.6" stroke="#000" stroke-width="3" />
<line x1="2239" y1="1583.6" x2="2437.9" y2="1583.6" stroke="#000" stroke-width="3" />
<polyline points="2219.7,1575.6 2230.7,1583.6 2219.7,1591.6" fill="none" stroke="#000" stroke-width="3"/>
<polyline points="2426.9,1575.6 2437.9,1583.6 2426.9,1591.6" fill="none" stroke="#000" stroke-width="3"/>
<text x="2131.8" y="1601" font-size="16.7" font-weight="bold" text-anchor="middle" >Immobilization</text>
<text x="2331.8" y="1601.8" font-size="16.7" font-weight="bold" text-anchor="middle" >Home Cage</text>
<text x="0" y="0" font-size="27.5" text-anchor="middle" transform="translate(1925 1359.2) rotate(-90)" font-weight="bold">Serum Corticosterone (µg/dL)</text>
<text x="2955" y="1154" font-size="28.3" font-weight="bold" text-anchor="middle" >Vehicle</text>
<line x1="2906.23" y1="1157.6" x2="3003.77" y2="1157.6" stroke="#000" stroke-width="2.8" />
<line x1="2700" y1="1179.7" x2="2700" y2="1531.1" stroke="#000" stroke-width="3.8" stroke-linecap="round"/>
<line x1="2692.9" y1="1529.2" x2="2700" y2="1529.2" stroke="#000" stroke-width="3.2" />
<text x="2681.5" y="1537.95" font-size="25" text-anchor="end" >0</text>
<line x1="2692.9" y1="1465.85" x2="2700" y2="1465.85" stroke="#000" stroke-width="3.2" />
<text x="2681.5" y="1474.6" font-size="25" text-anchor="end" >5</text>
<line x1="2692.9" y1="1402.5" x2="2700" y2="1402.5" stroke="#000" stroke-width="3.2" />
<text x="2681.5" y="1411.25" font-size="25" text-anchor="end" >10</text>
<line x1="2692.9" y1="1339.15" x2="2700" y2="1339.15" stroke="#000" stroke-width="3.2" />
<text x="2681.5" y="1347.9" font-size="25" text-anchor="end" >15</text>
<line x1="2692.9" y1="1275.8" x2="2700" y2="1275.8" stroke="#000" stroke-width="3.2" />
<text x="2681.5" y="1284.55" font-size="25" text-anchor="end" >20</text>
<line x1="2692.9" y1="1212.45" x2="2700" y2="1212.45" stroke="#000" stroke-width="3.2" />
<text x="2681.5" y="1221.2" font-size="25" text-anchor="end" >25</text>
<line x1="2695" y1="1529.2" x2="3201.5" y2="1529.2" stroke="#000" stroke-width="3.8" />
<line x1="2750.8" y1="1403.77" x2="2750.8" y2="1429.11" stroke="#000" stroke-width="2.8" />
<line x1="2744.8" y1="1403.77" x2="2756.8" y2="1403.77" stroke="#000" stroke-width="3.6" stroke-linecap="round"/>
<line x1="2744.8" y1="1429.11" x2="2756.8" y2="1429.11" stroke="#000" stroke-width="3.6" />
<line x1="2950.7" y1="1277.07" x2="2950.7" y2="1325.21" stroke="#000" stroke-width="2.8" />
<line x1="2944.7" y1="1277.07" x2="2956.7" y2="1277.07" stroke="#000" stroke-width="3.6" stroke-linecap="round"/>
<line x1="2944.7" y1="1325.21" x2="2956.7" y2="1325.21" stroke="#000" stroke-width="3.6" />
<line x1="3150.2" y1="1383.5" x2="3150.2" y2="1426.57" stroke="#000" stroke-width="2.8" />
<line x1="3144.2" y1="1383.5" x2="3156.2" y2="1383.5" stroke="#000" stroke-width="3.6" stroke-linecap="round"/>
<line x1="3144.2" y1="1426.57" x2="3156.2" y2="1426.57" stroke="#000" stroke-width="3.6" />
<line x1="2750.8" y1="1417.7" x2="2750.8" y2="1440.51" stroke="#000" stroke-width="2.8" />
<line x1="2744.8" y1="1417.7" x2="2756.8" y2="1417.7" stroke="#000" stroke-width="3.6" stroke-linecap="round"/>
<line x1="2744.8" y1="1440.51" x2="2756.8" y2="1440.51" stroke="#000" stroke-width="3.6" />
<line x1="2950.7" y1="1289.74" x2="2950.7" y2="1315.08" stroke="#000" stroke-width="2.8" />
<line x1="2944.7" y1="1289.74" x2="2956.7" y2="1289.74" stroke="#000" stroke-width="3.6" stroke-linecap="round"/>
<line x1="2944.7" y1="1315.08" x2="2956.7" y2="1315.08" stroke="#000" stroke-width="3.6" />
<line x1="3150.2" y1="1367.02" x2="3150.2" y2="1392.36" stroke="#000" stroke-width="2.8" />
<line x1="3144.2" y1="1367.02" x2="3156.2" y2="1367.02" stroke="#000" stroke-width="3.6" stroke-linecap="round"/>
<line x1="3144.2" y1="1392.36" x2="3156.2" y2="1392.36" stroke="#000" stroke-width="3.6" />
<polyline points="2750.8,1429.11 2950.7,1302.41 3150.2,1379.69" fill="none" stroke="#000" stroke-width="4.2" stroke-linejoin="round"/>
<polyline points="2750.8,1416.44 2950.7,1301.14 3150.2,1405.03" fill="none" stroke="#000" stroke-width="4.2" stroke-linejoin="round"/>
<circle cx="2750.8" cy="1429.11" r="7.8" fill="#F7902F" stroke="#000" stroke-width="3.4"/>
<circle cx="2950.7" cy="1302.41" r="7.8" fill="#F7902F" stroke="#000" stroke-width="3.4"/>
<circle cx="3150.2" cy="1379.69" r="7.8" fill="#F7902F" stroke="#000" stroke-width="3.4"/>
<circle cx="2750.8" cy="1416.44" r="10" fill="#000"/>
<circle cx="2950.7" cy="1301.14" r="10" fill="#000"/>
<circle cx="3150.2" cy="1405.03" r="10" fill="#000"/>
<line x1="2717" y1="1224.3" x2="2769.4" y2="1224.3" stroke="#000" stroke-width="3.8" />
<circle cx="2743.2" cy="1224.3" r="7.6" fill="#F7902F" stroke="#000" stroke-width="3.4"/>
<line x1="2717" y1="1251.3" x2="2769.4" y2="1251.3" stroke="#000" stroke-width="3.8" />
<circle cx="2743.2" cy="1251.3" r="9.6" fill="#000"/>
<text x="2781" y="1232.1" font-size="22" font-weight="bold" >Psychosocial Stress (<tspan font-style="italic">n</tspan> = 10)</text>
<text x="2781" y="1259.1" font-size="22" font-weight="bold" >No Psychosocial Stress (<tspan font-style="italic">n</tspan> = 10)</text>
<text x="2750.8" y="1561.5" font-size="22.3" font-weight="bold" text-anchor="middle" >0 min</text>
<text x="2950.7" y="1561.5" font-size="22.3" font-weight="bold" text-anchor="middle" >20 min</text>
<text x="3150.2" y="1561.5" font-size="22.3" font-weight="bold" text-anchor="middle" >80 min</text>
<circle cx="2747.4" cy="1582.2" r="5.5" fill="#000"/>
<circle cx="2955.7" cy="1582.2" r="5.5" fill="#000"/>
<line x1="2747.4" y1="1582.2" x2="2946.6" y2="1582.2" stroke="#000" stroke-width="3" />
<line x1="2955.7" y1="1582.2" x2="3156" y2="1582.2" stroke="#000" stroke-width="3" />
<polyline points="2935.6,1574.2 2946.6,1582.2 2935.6,1590.2" fill="none" stroke="#000" stroke-width="3"/>
<polyline points="3145,1574.2 3156,1582.2 3145,1590.2" fill="none" stroke="#000" stroke-width="3"/>
<text x="2847" y="1600" font-size="16.7" font-weight="bold" text-anchor="middle" >Immobilization</text>
<text x="3050.3" y="1600.8" font-size="16.7" font-weight="bold" text-anchor="middle" >Home Cage</text>
<text x="0" y="0" font-size="27.5" text-anchor="middle" transform="translate(2639.7 1354.5) rotate(-90)" font-weight="bold">Serum Corticosterone (µg/dL)</text>
<text x="2234.3" y="1655.5" font-size="28.3" font-weight="bold" text-anchor="middle" >10 µg/kg DEX</text>
<line x1="2144.36" y1="1659.1" x2="2324.24" y2="1659.1" stroke="#000" stroke-width="2.8" />
<line x1="1981" y1="1692" x2="1981" y2="2044.8" stroke="#000" stroke-width="3.8" stroke-linecap="round"/>
<line x1="1973.9" y1="2042.9" x2="1981" y2="2042.9" stroke="#000" stroke-width="3.2" />
<text x="1962.5" y="2051.65" font-size="25" text-anchor="end" >0</text>
<line x1="1973.9" y1="1979.15" x2="1981" y2="1979.15" stroke="#000" stroke-width="3.2" />
<text x="1962.5" y="1987.9" font-size="25" text-anchor="end" >5</text>
<line x1="1973.9" y1="1915.4" x2="1981" y2="1915.4" stroke="#000" stroke-width="3.2" />
<text x="1962.5" y="1924.15" font-size="25" text-anchor="end" >10</text>
<line x1="1973.9" y1="1851.65" x2="1981" y2="1851.65" stroke="#000" stroke-width="3.2" />
<text x="1962.5" y="1860.4" font-size="25" text-anchor="end" >15</text>
<line x1="1973.9" y1="1787.9" x2="1981" y2="1787.9" stroke="#000" stroke-width="3.2" />
<text x="1962.5" y="1796.65" font-size="25" text-anchor="end" >20</text>
<line x1="1973.9" y1="1724.15" x2="1981" y2="1724.15" stroke="#000" stroke-width="3.2" />
<text x="1962.5" y="1732.9" font-size="25" text-anchor="end" >25</text>
<line x1="1974.6" y1="2042.9" x2="2481.8" y2="2042.9" stroke="#000" stroke-width="3.8" />
<line x1="2031" y1="2000.83" x2="2031" y2="2011.03" stroke="#000" stroke-width="2.8" />
<line x1="2025" y1="2000.83" x2="2037" y2="2000.83" stroke="#000" stroke-width="3.6" stroke-linecap="round"/>
<line x1="2025" y1="2011.03" x2="2037" y2="2011.03" stroke="#000" stroke-width="3.6" />
<line x1="2231" y1="1763.68" x2="2231" y2="1807.03" stroke="#000" stroke-width="2.8" />
<line x1="2225" y1="1763.68" x2="2237" y2="1763.68" stroke="#000" stroke-width="3.6" stroke-linecap="round"/>
<line x1="2225" y1="1807.03" x2="2237" y2="1807.03" stroke="#000" stroke-width="3.6" />
<line x1="2431.8" y1="1933.25" x2="2431.8" y2="1963.85" stroke="#000" stroke-width="2.8" />
<line x1="2425.8" y1="1933.25" x2="2437.8" y2="1933.25" stroke="#000" stroke-width="3.6" stroke-linecap="round"/>
<line x1="2425.8" y1="1963.85" x2="2437.8" y2="1963.85" stroke="#000" stroke-width="3.6" />
<line x1="2031" y1="2023.78" x2="2031" y2="2031.43" stroke="#000" stroke-width="2.8" />
<line x1="2025" y1="2023.78" x2="2037" y2="2023.78" stroke="#000" stroke-width="3.6" stroke-linecap="round"/>
<line x1="2025" y1="2031.43" x2="2037" y2="2031.43" stroke="#000" stroke-width="3.6" />
<line x1="2231" y1="1836.35" x2="2231" y2="1854.2" stroke="#000" stroke-width="2.8" />
<line x1="2225" y1="1836.35" x2="2237" y2="1836.35" stroke="#000" stroke-width="3.6" stroke-linecap="round"/>
<line x1="2225" y1="1854.2" x2="2237" y2="1854.2" stroke="#000" stroke-width="3.6" />
<line x1="2431.8" y1="1979.15" x2="2431.8" y2="1999.55" stroke="#000" stroke-width="2.8" />
<line x1="2425.8" y1="1979.15" x2="2437.8" y2="1979.15" stroke="#000" stroke-width="3.6" stroke-linecap="round"/>
<line x1="2425.8" y1="1999.55" x2="2437.8" y2="1999.55" stroke="#000" stroke-width="3.6" />
<polyline points="2031,2027.6 2231,1845.28 2431.8,1989.35" fill="none" stroke="#000" stroke-width="4.2" stroke-linejoin="round"/>
<polyline points="2031,2005.93 2231,1785.35 2431.8,1948.55" fill="none" stroke="#000" stroke-width="4.2" stroke-linejoin="round"/>
<circle cx="2031" cy="2027.6" r="7.8" fill="#F7902F" stroke="#000" stroke-width="3.4"/>
<circle cx="2231" cy="1845.28" r="7.8" fill="#F7902F" stroke="#000" stroke-width="3.4"/>
<circle cx="2431.8" cy="1989.35" r="7.8" fill="#F7902F" stroke="#000" stroke-width="3.4"/>
<circle cx="2031" cy="2005.93" r="10" fill="#000"/>
<circle cx="2231" cy="1785.35" r="10" fill="#000"/>
<circle cx="2431.8" cy="1948.55" r="10" fill="#000"/>
<line x1="2029" y1="1756.4" x2="2432.9" y2="1756.4" stroke="#000" stroke-width="3.4" stroke-linecap="round"/>
<text x="2231" y="1765.2" font-size="40" font-weight="bold" text-anchor="middle" >*</text>
<line x1="1999.6" y1="1689.3" x2="2051.4" y2="1689.3" stroke="#000" stroke-width="3.8" />
<circle cx="2025.5" cy="1689.3" r="7.6" fill="#F7902F" stroke="#000" stroke-width="3.4"/>
<line x1="1999.6" y1="1716" x2="2051.4" y2="1716" stroke="#000" stroke-width="3.8" />
<circle cx="2025.5" cy="1716" r="9.6" fill="#000"/>
<text x="2064" y="1697.1" font-size="22" font-weight="bold" >Psychosocial Stress (<tspan font-style="italic">n</tspan> = 15)</text>
<text x="2064" y="1723.8" font-size="22" font-weight="bold" >No Psychosocial Stress (<tspan font-style="italic">n</tspan> = 14)</text>
<text x="2031" y="2076" font-size="22.3" font-weight="bold" text-anchor="middle" >0 min</text>
<text x="2231" y="2076" font-size="22.3" font-weight="bold" text-anchor="middle" >20 min</text>
<text x="2431.8" y="2076" font-size="22.3" font-weight="bold" text-anchor="middle" >80 min</text>
<circle cx="2028.2" cy="2095.7" r="5.5" fill="#000"/>
<circle cx="2237" cy="2095.7" r="5.5" fill="#000"/>
<line x1="2028.2" y1="2095.7" x2="2228" y2="2095.7" stroke="#000" stroke-width="3" />
<line x1="2237" y1="2095.7" x2="2437" y2="2095.7" stroke="#000" stroke-width="3" />
<polyline points="2217,2087.7 2228,2095.7 2217,2103.7" fill="none" stroke="#000" stroke-width="3"/>
<polyline points="2426,2087.7 2437,2095.7 2426,2103.7" fill="none" stroke="#000" stroke-width="3"/>
<text x="2127" y="2114" font-size="16.7" font-weight="bold" text-anchor="middle" >Immobilization</text>
<text x="2331.8" y="2114.8" font-size="16.7" font-weight="bold" text-anchor="middle" >Home Cage</text>
<text x="0" y="0" font-size="27.5" text-anchor="middle" transform="translate(1917.4 1866) rotate(-90)" font-weight="bold">Serum Corticosterone (µg/dL)</text>
<text x="2944.9" y="1662" font-size="28.3" font-weight="bold" text-anchor="middle" >25 µg/kg DEX</text>
<line x1="2854.96" y1="1665.6" x2="3034.84" y2="1665.6" stroke="#000" stroke-width="2.8" />
<line x1="2690.4" y1="1693.6" x2="2690.4" y2="2047.4" stroke="#000" stroke-width="3.8" stroke-linecap="round"/>
<line x1="2683.3" y1="2045.5" x2="2690.4" y2="2045.5" stroke="#000" stroke-width="3.2" />
<text x="2671.9" y="2054.25" font-size="25" text-anchor="end" >0</text>
<line x1="2683.3" y1="1981.8" x2="2690.4" y2="1981.8" stroke="#000" stroke-width="3.2" />
<text x="2671.9" y="1990.55" font-size="25" text-anchor="end" >5</text>
<line x1="2683.3" y1="1918.1" x2="2690.4" y2="1918.1" stroke="#000" stroke-width="3.2" />
<text x="2671.9" y="1926.85" font-size="25" text-anchor="end" >10</text>
<line x1="2683.3" y1="1854.4" x2="2690.4" y2="1854.4" stroke="#000" stroke-width="3.2" />
<text x="2671.9" y="1863.15" font-size="25" text-anchor="end" >15</text>
<line x1="2683.3" y1="1790.7" x2="2690.4" y2="1790.7" stroke="#000" stroke-width="3.2" />
<text x="2671.9" y="1799.45" font-size="25" text-anchor="end" >20</text>
<line x1="2683.3" y1="1727" x2="2690.4" y2="1727" stroke="#000" stroke-width="3.2" />
<text x="2671.9" y="1735.75" font-size="25" text-anchor="end" >25</text>
<line x1="2685.3" y1="2045.5" x2="3192.7" y2="2045.5" stroke="#000" stroke-width="3.8" />
<line x1="2740.5" y1="2035.94" x2="2740.5" y2="2041.04" stroke="#000" stroke-width="2.8" />
<line x1="2734.5" y1="2035.94" x2="2746.5" y2="2035.94" stroke="#000" stroke-width="3.6" stroke-linecap="round"/>
<line x1="2734.5" y1="2041.04" x2="2746.5" y2="2041.04" stroke="#000" stroke-width="3.6" />
<line x1="2941" y1="1848.03" x2="2941" y2="1886.25" stroke="#000" stroke-width="2.8" />
<line x1="2935" y1="1848.03" x2="2947" y2="1848.03" stroke="#000" stroke-width="3.6" stroke-linecap="round"/>
<line x1="2935" y1="1886.25" x2="2947" y2="1886.25" stroke="#000" stroke-width="3.6" />
<line x1="3141" y1="2006.01" x2="3141" y2="2016.2" stroke="#000" stroke-width="2.8" />
<line x1="3135" y1="2006.01" x2="3147" y2="2006.01" stroke="#000" stroke-width="3.6" stroke-linecap="round"/>
<line x1="3135" y1="2016.2" x2="3147" y2="2016.2" stroke="#000" stroke-width="3.6" />
<line x1="2740.5" y1="2035.31" x2="2740.5" y2="2040.4" stroke="#000" stroke-width="2.8" />
<line x1="2734.5" y1="2035.31" x2="2746.5" y2="2035.31" stroke="#000" stroke-width="3.6" stroke-linecap="round"/>
<line x1="2734.5" y1="2040.4" x2="2746.5" y2="2040.4" stroke="#000" stroke-width="3.6" />
<line x1="2941" y1="1859.5" x2="2941" y2="1884.98" stroke="#000" stroke-width="2.8" />
<line x1="2935" y1="1859.5" x2="2947" y2="1859.5" stroke="#000" stroke-width="3.6" stroke-linecap="round"/>
<line x1="2935" y1="1884.98" x2="2947" y2="1884.98" stroke="#000" stroke-width="3.6" />
<line x1="3141" y1="2027.66" x2="3141" y2="2035.31" stroke="#000" stroke-width="2.8" />
<line x1="3135" y1="2027.66" x2="3147" y2="2027.66" stroke="#000" stroke-width="3.6" stroke-linecap="round"/>
<line x1="3135" y1="2035.31" x2="3147" y2="2035.31" stroke="#000" stroke-width="3.6" />
<polyline points="2740.5,2037.86 2941,1872.24 3141,2031.49" fill="none" stroke="#000" stroke-width="4.2" stroke-linejoin="round"/>
<polyline points="2740.5,2038.49 2941,1867.14 3141,2011.1" fill="none" stroke="#000" stroke-width="4.2" stroke-linejoin="round"/>
<circle cx="2740.5" cy="2037.86" r="7.8" fill="#F7902F" stroke="#000" stroke-width="3.4"/>
<circle cx="2941" cy="1872.24" r="7.8" fill="#F7902F" stroke="#000" stroke-width="3.4"/>
<circle cx="3141" cy="2031.49" r="7.8" fill="#F7902F" stroke="#000" stroke-width="3.4"/>
<circle cx="2740.5" cy="2038.49" r="10" fill="#000"/>
<circle cx="2941" cy="1867.14" r="10" fill="#000"/>
<circle cx="3141" cy="2011.1" r="10" fill="#000"/>
<line x1="2755.5" y1="1729.7" x2="2809" y2="1729.7" stroke="#000" stroke-width="3.8" />
<circle cx="2782.25" cy="1729.7" r="7.6" fill="#F7902F" stroke="#000" stroke-width="3.4"/>
<line x1="2755.5" y1="1757" x2="2809" y2="1757" stroke="#000" stroke-width="3.8" />
<circle cx="2782.25" cy="1757" r="9.6" fill="#000"/>
<text x="2820.7" y="1737.5" font-size="22" font-weight="bold" >Psychosocial Stress (<tspan font-style="italic">n</tspan> = 15)</text>
<text x="2820.7" y="1764.8" font-size="22" font-weight="bold" >No Psychosocial Stress (<tspan font-style="italic">n</tspan> = 15)</text>
<text x="2740.5" y="2077.5" font-size="22.3" font-weight="bold" text-anchor="middle" >0 min</text>
<text x="2941" y="2077.5" font-size="22.3" font-weight="bold" text-anchor="middle" >20 min</text>
<text x="3141" y="2077.5" font-size="22.3" font-weight="bold" text-anchor="middle" >80 min</text>
<circle cx="2739.5" cy="2099" r="5.5" fill="#000"/>
<circle cx="2948.4" cy="2099" r="5.5" fill="#000"/>
<line x1="2739.5" y1="2099" x2="2939.4" y2="2099" stroke="#000" stroke-width="3" />
<line x1="2948.4" y1="2099" x2="3149" y2="2099" stroke="#000" stroke-width="3" />
<polyline points="2928.4,2091 2939.4,2099 2928.4,2107" fill="none" stroke="#000" stroke-width="3"/>
<polyline points="3138,2091 3149,2099 3138,2107" fill="none" stroke="#000" stroke-width="3"/>
<text x="2837.4" y="2117.5" font-size="16.7" font-weight="bold" text-anchor="middle" >Immobilization</text>
<text x="3042.3" y="2118.3" font-size="16.7" font-weight="bold" text-anchor="middle" >Home Cage</text>
<text x="0" y="0" font-size="27.5" text-anchor="middle" transform="translate(2628.4 1870.5) rotate(-90)" font-weight="bold">Serum Corticosterone (µg/dL)</text>
<text x="1359" y="1807.8" font-size="37" font-weight="bold" textLength="168" lengthAdjust="spacing"><tspan font-weight="normal">*</tspan> <tspan font-style="italic">p</tspan> &lt; 0.05</text>
<text x="1444.5" y="1905.5" font-size="27" font-weight="bold" text-anchor="middle" >This research was supported by the National</text>
<text x="1444.5" y="1937.9" font-size="27" font-weight="bold" text-anchor="middle" >Institute of Health under award number</text>
<text x="1444.5" y="1970.3" font-size="27" font-weight="bold" text-anchor="middle" >R15HL132322</text>
<defs><filter id="pb" x="-10%" y="-10%" width="120%" height="120%"><feGaussianBlur stdDeviation="2.2"/></filter><filter id="pb2" x="-10%" y="-10%" width="120%" height="120%"><feGaussianBlur stdDeviation="1.2"/></filter><radialGradient id="sunG"><stop offset="0" stop-color="#FFB800"/><stop offset="0.55" stop-color="#FFC400"/><stop offset="0.62" stop-color="#FFF200"/><stop offset="1" stop-color="#FFF200" stop-opacity="0"/></radialGradient></defs>
<rect x="49.1" y="1316.2" width="140.7" height="160.4" fill="#111" />
<clipPath id="ph1"><rect x="55.1" y="1321.7" width="129.7" height="148.9"/></clipPath>
<g clip-path="url(#ph1)"><g filter="url(#pb)"><rect x="50.1" y="1316.7" width="139.7" height="158.9" fill="#aeb2b4"/><rect x="50.1" y="1403.6" width="139.7" height="74.45" fill="#bcc0c8"/><ellipse cx="138.11" cy="1366.37" rx="38.91" ry="41.69" fill="#978c6c" opacity="0.75"/><ellipse cx="109.57" cy="1357.44" rx="16.86" ry="19.36" fill="#9c8c66" opacity="0.8"/><ellipse cx="161.45" cy="1414.02" rx="16.86" ry="29.78" fill="#968d6e" opacity="0.7"/><ellipse cx="135.51" cy="1403.6" rx="12.97" ry="17.87" fill="#6e6a5e" opacity="0.7"/><ellipse cx="114.76" cy="1443.8" rx="11.67" ry="16.38" fill="#eef0f2" opacity="1"/><ellipse cx="148.48" cy="1446.78" rx="7.78" ry="10.42" fill="#e4e8ec" opacity="1"/><ellipse cx="106.98" cy="1455.71" rx="6.49" ry="7.44" fill="#505458" opacity="1"/><rect x="113.47" y="1455.71" width="71.34" height="14.89" fill="#7c8288"/></g><line x1="58.1" y1="1321.7" x2="58.1" y2="1470.6" stroke="#d6dad6" stroke-width="1.4" opacity="0.55"/><line x1="72.05" y1="1321.7" x2="72.05" y2="1470.6" stroke="#d6dad6" stroke-width="1.4" opacity="0.55"/><line x1="85.99" y1="1321.7" x2="85.99" y2="1470.6" stroke="#d6dad6" stroke-width="1.4" opacity="0.55"/><line x1="99.94" y1="1321.7" x2="99.94" y2="1470.6" stroke="#d6dad6" stroke-width="1.4" opacity="0.55"/><line x1="113.88" y1="1321.7" x2="113.88" y2="1470.6" stroke="#d6dad6" stroke-width="1.4" opacity="0.55"/><line x1="127.83" y1="1321.7" x2="127.83" y2="1470.6" stroke="#d6dad6" stroke-width="1.4" opacity="0.55"/><line x1="141.78" y1="1321.7" x2="141.78" y2="1470.6" stroke="#d6dad6" stroke-width="1.4" opacity="0.55"/><line x1="155.72" y1="1321.7" x2="155.72" y2="1470.6" stroke="#d6dad6" stroke-width="1.4" opacity="0.55"/><line x1="169.67" y1="1321.7" x2="169.67" y2="1470.6" stroke="#d6dad6" stroke-width="1.4" opacity="0.55"/><line x1="183.62" y1="1321.7" x2="183.62" y2="1470.6" stroke="#d6dad6" stroke-width="1.4" opacity="0.55"/><line x1="55.1" y1="1335.1" x2="184.8" y2="1335.1" stroke="#d0d4d0" stroke-width="1.4" opacity="0.5"/><line x1="55.1" y1="1391.68" x2="184.8" y2="1391.68" stroke="#d0d4d0" stroke-width="1.4" opacity="0.5"/><rect x="55.85" y="1322.45" width="128.2" height="147.4" fill="none" stroke="#e8eaea" stroke-width="1.5"/></g>
<rect x="396" y="1317" width="139.4" height="157.5" fill="#111" />
<clipPath id="ph2"><rect x="402" y="1322.5" width="128.4" height="146"/></clipPath>
<g clip-path="url(#ph2)"><g filter="url(#pb)"><rect x="397" y="1317.5" width="138.4" height="156" fill="#aeb2b4"/><rect x="397" y="1402.8" width="138.4" height="73" fill="#bcc0c8"/><ellipse cx="484.18" cy="1366.3" rx="38.52" ry="40.88" fill="#978c6c" opacity="0.75"/><ellipse cx="455.93" cy="1357.54" rx="16.69" ry="18.98" fill="#9c8c66" opacity="0.8"/><ellipse cx="507.29" cy="1413.02" rx="16.69" ry="29.2" fill="#968d6e" opacity="0.7"/><ellipse cx="481.61" cy="1402.8" rx="12.84" ry="17.52" fill="#6e6a5e" opacity="0.7"/><ellipse cx="461.06" cy="1442.22" rx="11.56" ry="16.06" fill="#eef0f2" opacity="1"/><ellipse cx="494.45" cy="1445.14" rx="7.7" ry="10.22" fill="#e4e8ec" opacity="1"/><ellipse cx="453.36" cy="1453.9" rx="6.42" ry="7.3" fill="#505458" opacity="1"/><rect x="459.78" y="1453.9" width="70.62" height="14.6" fill="#7c8288"/></g><line x1="405" y1="1322.5" x2="405" y2="1468.5" stroke="#d6dad6" stroke-width="1.4" opacity="0.55"/><line x1="418.81" y1="1322.5" x2="418.81" y2="1468.5" stroke="#d6dad6" stroke-width="1.4" opacity="0.55"/><line x1="432.61" y1="1322.5" x2="432.61" y2="1468.5" stroke="#d6dad6" stroke-width="1.4" opacity="0.55"/><line x1="446.42" y1="1322.5" x2="446.42" y2="1468.5" stroke="#d6dad6" stroke-width="1.4" opacity="0.55"/><line x1="460.23" y1="1322.5" x2="460.23" y2="1468.5" stroke="#d6dad6" stroke-width="1.4" opacity="0.55"/><line x1="474.03" y1="1322.5" x2="474.03" y2="1468.5" stroke="#d6dad6" stroke-width="1.4" opacity="0.55"/><line x1="487.84" y1="1322.5" x2="487.84" y2="1468.5" stroke="#d6dad6" stroke-width="1.4" opacity="0.55"/><line x1="501.65" y1="1322.5" x2="501.65" y2="1468.5" stroke="#d6dad6" stroke-width="1.4" opacity="0.55"/><line x1="515.45" y1="1322.5" x2="515.45" y2="1468.5" stroke="#d6dad6" stroke-width="1.4" opacity="0.55"/><line x1="529.26" y1="1322.5" x2="529.26" y2="1468.5" stroke="#d6dad6" stroke-width="1.4" opacity="0.55"/><line x1="402" y1="1335.64" x2="530.4" y2="1335.64" stroke="#d0d4d0" stroke-width="1.4" opacity="0.5"/><line x1="402" y1="1391.12" x2="530.4" y2="1391.12" stroke="#d0d4d0" stroke-width="1.4" opacity="0.5"/><rect x="402.75" y="1323.25" width="126.9" height="144.5" fill="none" stroke="#e8eaea" stroke-width="1.5"/></g>
<rect x="733" y="1334" width="147" height="123" fill="#111" />
<clipPath id="ph3"><rect x="739" y="1339.5" width="135.5" height="112"/></clipPath>
<g clip-path="url(#ph3)"><g filter="url(#pb2)"><rect x="733" y="1333.5" width="147.5" height="124" fill="#c0ae98"/><polygon points="739,1401.1 874.5,1395.5 874.5,1451.5 739,1451.5" fill="#cdbfac" opacity="1"/><polygon points="745.77,1442.54 752.55,1448.14 850.11,1367.5 843.34,1360.78" fill="#6c6c74" opacity="1"/><polygon points="751.87,1346.22 760.14,1345.1 801.33,1374.22 799.98,1391.02 753.9,1363.02" fill="#2e2e30" opacity="1"/><polygon points="809.46,1376.46 867.73,1411.18 866.37,1427.98 855.53,1439.18 799.98,1397.74" fill="#3a3a3c" opacity="1"/><polygon points="809.46,1376.46 867.73,1411.18 865.01,1415.66 806.75,1382.06" fill="#1e1e20" opacity="1"/><ellipse cx="752.55" cy="1435.82" rx="6.78" ry="4.48" fill="#e6e2dc" opacity="1" transform="rotate(-35 752.55 1435.82)"/></g></g>
<g filter="url(#pb2)"><polygon points="240,1479 224.62,1487.54 229.46,1504.46 212.54,1499.62 204,1515 195.46,1499.62 178.54,1504.46 183.38,1487.54 168,1479 183.38,1470.46 178.54,1453.54 195.46,1458.38 204,1443 212.54,1458.38 229.46,1453.54 224.62,1470.46" fill="#FFF000"/><circle cx="204" cy="1479" r="18" fill="#FFC000"/></g>
<g filter="url(#pb2)"><path d="M 537.7 1458.1 A 27.5 27.5 0 1 0 547.6 1507.6 A 27 27 0 0 1 537.7 1458.1 Z" fill="#5d6272" stroke="#8eaee6" stroke-width="2.6" stroke-linejoin="round"/></g>
<clipPath id="cp4"><polygon points="198.2,1404.1 343.8,1404.1 343.8,1387.3 377.5,1420.5 343.8,1453.7 343.8,1436.5 198.2,1436.5"/></clipPath>
<polygon points="198.2,1404.1 343.8,1404.1 343.8,1387.3 377.5,1420.5 343.8,1453.7 343.8,1436.5 198.2,1436.5" fill="#FF6633" stroke="#000" stroke-width="11.2" stroke-linejoin="miter" clip-path="url(#cp4)"/>
<text x="281.8" y="1429.2" font-size="20" font-weight="bold" text-anchor="middle" fill="#7a3a20" opacity="0.55">10 Days</text>
<text x="281" y="1428.4" font-size="20" font-weight="bold" text-anchor="middle" fill="#FFF6EA" >10 Days</text>
<clipPath id="cp5"><polygon points="546.7,1405.5 688,1405.5 688,1388 723,1425.5 688,1463 688,1442 546.7,1442"/></clipPath>
<polygon points="546.7,1405.5 688,1405.5 688,1388 723,1425.5 688,1463 688,1442 546.7,1442" fill="#FF6633" stroke="#000" stroke-width="11.2" stroke-linejoin="miter" clip-path="url(#cp5)"/>
<text x="626.3" y="1434.1" font-size="20" font-weight="bold" text-anchor="middle" fill="#7a3a20" opacity="0.55">21 Days</text>
<text x="625.5" y="1433.3" font-size="20" font-weight="bold" text-anchor="middle" fill="#FFF6EA" >21 Days</text>
<clipPath id="cp6"><polygon points="885,1405 960,1405 960,1390 995,1421.5 960,1453 960,1437 885,1437"/></clipPath>
<polygon points="885,1405 960,1405 960,1390 995,1421.5 960,1453 960,1437 885,1437" fill="#FF6633" stroke="#000" stroke-width="11.2" stroke-linejoin="miter" clip-path="url(#cp6)"/>
<text x="934" y="1430.6" font-size="20" font-weight="bold" text-anchor="middle" fill="#7a3a20" opacity="0.55">1 Day</text>
<text x="933.2" y="1429.8" font-size="20" font-weight="bold" text-anchor="middle" fill="#FFF6EA" >1 Day</text>
<clipPath id="cp7"><polygon points="49.1,1516.3 140.7,1516.3 140.7,1510.3 129.2,1510.3 148.6,1477 168,1510.3 156.5,1510.3 156.5,1516.3 247.5,1516.3 247.5,1593.4 49.1,1593.4"/></clipPath>
<polygon points="49.1,1516.3 140.7,1516.3 140.7,1510.3 129.2,1510.3 148.6,1477 168,1510.3 156.5,1510.3 156.5,1516.3 247.5,1516.3 247.5,1593.4 49.1,1593.4" fill="#FF6633" stroke="#000" stroke-width="11.2" stroke-linejoin="miter" clip-path="url(#cp7)"/>
<text x="149.2" y="1537.8" font-size="20" font-weight="bold" text-anchor="middle" fill="#7a3a20" opacity="0.55">Cat Stress w/</text>
<text x="148.4" y="1537" font-size="20" font-weight="bold" text-anchor="middle" fill="#FFF6EA" >Cat Stress w/</text>
<text x="149.2" y="1562.5" font-size="20" font-weight="bold" text-anchor="middle" fill="#7a3a20" opacity="0.55">Immobilization</text>
<text x="148.4" y="1561.7" font-size="20" font-weight="bold" text-anchor="middle" fill="#FFF6EA" >Immobilization</text>
<text x="149.2" y="1586.6" font-size="20" font-weight="bold" text-anchor="middle" fill="#7a3a20" opacity="0.55">(Day 1)</text>
<text x="148.4" y="1585.8" font-size="20" font-weight="bold" text-anchor="middle" fill="#FFF6EA" >(Day 1)</text>
<clipPath id="cp8"><polygon points="390,1517 474.1,1517 474.1,1511 462.6,1511 482,1478 501.4,1511 489.9,1511 489.9,1517 575,1517 575,1596.4 390,1596.4"/></clipPath>
<polygon points="390,1517 474.1,1517 474.1,1511 462.6,1511 482,1478 501.4,1511 489.9,1511 489.9,1517 575,1517 575,1596.4 390,1596.4" fill="#FF6633" stroke="#000" stroke-width="11.2" stroke-linejoin="miter" clip-path="url(#cp8)"/>
<text x="482.8" y="1540.8" font-size="20" font-weight="bold" text-anchor="middle" fill="#7a3a20" opacity="0.55">Cat Stress w/</text>
<text x="482" y="1540" font-size="20" font-weight="bold" text-anchor="middle" fill="#FFF6EA" >Cat Stress w/</text>
<text x="482.8" y="1565.4" font-size="20" font-weight="bold" text-anchor="middle" fill="#7a3a20" opacity="0.55">Immobilization</text>
<text x="482" y="1564.6" font-size="20" font-weight="bold" text-anchor="middle" fill="#FFF6EA" >Immobilization</text>
<text x="482.8" y="1589.8" font-size="20" font-weight="bold" text-anchor="middle" fill="#7a3a20" opacity="0.55">(Day 11)</text>
<text x="482" y="1589" font-size="20" font-weight="bold" text-anchor="middle" fill="#FFF6EA" >(Day 11)</text>
<clipPath id="cp9"><polygon points="749,1517 809.7,1517 809.7,1511 798.2,1511 817.6,1478 837,1511 825.5,1511 825.5,1517 887,1517 887,1593 749,1593"/></clipPath>
<polygon points="749,1517 809.7,1517 809.7,1511 798.2,1511 817.6,1478 837,1511 825.5,1511 825.5,1517 887,1517 887,1593 749,1593" fill="#FF6633" stroke="#000" stroke-width="11.2" stroke-linejoin="miter" clip-path="url(#cp9)"/>
<text x="818.7" y="1562.8" font-size="20" font-weight="bold" text-anchor="middle" fill="#7a3a20" opacity="0.55">EPM testing</text>
<text x="817.9" y="1562" font-size="20" font-weight="bold" text-anchor="middle" fill="#FFF6EA" >EPM testing</text>
<clipPath id="cp10"><polygon points="893,1517 973.4,1517 973.4,1511 961.9,1511 981.3,1478 1000.7,1511 989.2,1511 989.2,1517 1071,1517 1071,1593 893,1593"/></clipPath>
<polygon points="893,1517 973.4,1517 973.4,1511 961.9,1511 981.3,1478 1000.7,1511 989.2,1511 989.2,1517 1071,1517 1071,1593 893,1593" fill="#FF6633" stroke="#000" stroke-width="11.2" stroke-linejoin="miter" clip-path="url(#cp10)"/>
<text x="982.1" y="1550.7" font-size="20" font-weight="bold" text-anchor="middle" fill="#7a3a20" opacity="0.55">Brain</text>
<text x="981.3" y="1549.9" font-size="20" font-weight="bold" text-anchor="middle" fill="#FFF6EA" >Brain</text>
<text x="982.1" y="1574.2" font-size="20" font-weight="bold" text-anchor="middle" fill="#7a3a20" opacity="0.55">extractions</text>
<text x="981.3" y="1573.4" font-size="20" font-weight="bold" text-anchor="middle" fill="#FFF6EA" >extractions</text>
<path d="M 39.5 1601 L 39.5 1615 Q 39.5 1617.5 42 1617.5 L 738 1617.5 Q 740.5 1617.5 740.5 1615 L 740.5 1601" fill="none" stroke="#111" stroke-width="4"/>
<line x1="390" y1="1617.5" x2="390" y2="1633" stroke="#111" stroke-width="4" />
<clipPath id="cp11"><polygon points="181.7,1640.5 589,1640.5 589,1679.7 181.7,1679.7"/></clipPath>
<polygon points="181.7,1640.5 589,1640.5 589,1679.7 181.7,1679.7" fill="#FF6633" stroke="#000" stroke-width="11.2" stroke-linejoin="miter" clip-path="url(#cp11)"/>
<text x="386.8" y="1669.2" font-size="20" font-weight="bold" text-anchor="middle" fill="#7a3a20" opacity="0.55">Daily Social Instability</text>
<text x="386" y="1668.4" font-size="20" font-weight="bold" text-anchor="middle" fill="#FFF6EA" >Daily Social Instability</text>
<rect x="53.1" y="1880.4" width="151.6" height="158.2" fill="#111" />
<clipPath id="ph12"><rect x="59.1" y="1885.9" width="140.1" height="147.2"/></clipPath>
<g clip-path="url(#ph12)"><g filter="url(#pb)"><rect x="53.1" y="1879.9" width="152.1" height="159.2" fill="#4e8d6d"/><polygon points="59.1,1966.86 199.2,1937.42 199.2,2033.1 59.1,2033.1" fill="#46846a" opacity="1"/><polygon points="59.1,1885.9 101.13,1885.9 136.16,1912.4 115.14,1933 59.1,1935.95" fill="#e6c9b2" opacity="1"/><ellipse cx="109.54" cy="1971.28" rx="50.44" ry="35.33" fill="#efe9dc" opacity="1" transform="rotate(-12 109.54 1971.28)"/><ellipse cx="145.96" cy="1966.86" rx="22.42" ry="19.14" fill="#f2ede2" opacity="1" transform="rotate(-5 145.96 1966.86)"/><ellipse cx="101.13" cy="1953.61" rx="9.81" ry="10.3" fill="#e9b3ad" opacity="1" transform="rotate(0 101.13 1953.61)"/><ellipse cx="154.37" cy="1971.28" rx="3.5" ry="3.68" fill="#8a3040" opacity="1" transform="rotate(0 154.37 1971.28)"/><ellipse cx="103.93" cy="2006.6" rx="14.01" ry="7.36" fill="#e8d8d0" opacity="1" transform="rotate(0 103.93 2006.6)"/><polygon points="136.16,1934.48 199.2,1930.06 199.2,1941.84 136.16,1946.25" fill="#c8c4b8" opacity="1"/><polygon points="145.96,1931.53 148.76,1931.53 148.76,1943.31 145.96,1943.31" fill="#303030" opacity="1"/><polygon points="156.47,1931.53 159.27,1931.53 159.27,1943.31 156.47,1943.31" fill="#303030" opacity="1"/><polygon points="166.98,1931.53 169.78,1931.53 169.78,1943.31 166.98,1943.31" fill="#303030" opacity="1"/><polygon points="177.48,1931.53 180.29,1931.53 180.29,1943.31 177.48,1943.31" fill="#303030" opacity="1"/><polygon points="187.99,1931.53 190.79,1931.53 190.79,1943.31 187.99,1943.31" fill="#303030" opacity="1"/><ellipse cx="195" cy="2018.38" rx="14.01" ry="32.38" fill="#e2c0a2" opacity="1" transform="rotate(20 195 2018.38)"/></g></g>
<rect x="355.9" y="1872.2" width="130.2" height="103.2" fill="#111" />
<clipPath id="ph13"><rect x="361.9" y="1877.7" width="118.7" height="92.2"/></clipPath>
<g clip-path="url(#ph13)"><g filter="url(#pb)"><rect x="355.9" y="1871.7" width="130.7" height="104.2" fill="#48c2c8"/><polygon points="361.9,1877.7 403.44,1877.7 415.31,1909.97 397.51,1933.02 361.9,1928.41" fill="#2f9aa2" opacity="1"/><polygon points="367.83,1886.92 397.51,1896.14 391.57,1905.36 364.27,1900.75" fill="#1c6e78" opacity="0.8"/><polygon points="444.99,1900.75 480.6,1896.14 480.6,1928.41 450.93,1933.02" fill="#58ccd0" opacity="1"/><polygon points="361.9,1944.08 399.88,1934.86 409.38,1969.9 361.9,1969.9" fill="#3a3028" opacity="1"/><polygon points="427.19,1934.86 456.86,1923.8 480.6,1942.24 480.6,1969.9 433.12,1969.9" fill="#b6c4e4" opacity="1"/><polygon points="444.99,1944.08 474.67,1951.46 468.73,1962.52 442.62,1956.99" fill="#eef2fa" opacity="1"/><polygon points="430.75,1882.31 444.99,1877.7 433.12,1928.41 416.5,1969.9 404.63,1969.9 418.88,1923.8" fill="#e6aacb" opacity="1"/><polygon points="447.36,1877.7 480.6,1877.7 480.6,1894.3 456.86,1905.36" fill="#f0dce0" opacity="1"/><ellipse cx="421.25" cy="1912.74" rx="7.12" ry="4.61" fill="#8aa0b0" opacity="1" transform="rotate(0 421.25 1912.74)"/></g></g>
<rect x="355.9" y="1981.1" width="130.2" height="86.4" fill="#111" />
<clipPath id="ph14"><rect x="361.9" y="1986.6" width="118.7" height="75.4"/></clipPath>
<g clip-path="url(#ph14)"><g filter="url(#pb)"><rect x="355.9" y="1980.6" width="130.7" height="87.4" fill="#857a5c"/><polygon points="361.9,1986.6 391.57,1986.6 385.64,2024.3 361.9,2031.84" fill="#5e5846" opacity="1"/><polygon points="361.9,2046.92 480.6,2040.89 480.6,2062 361.9,2062" fill="#3f55a4" opacity="1"/><polygon points="462.8,1986.6 480.6,1986.6 480.6,2043.15 466.36,2039.38" fill="#5472b2" opacity="1"/><polygon points="371.4,2040.89 447.36,1989.62 463.98,1995.65 471.1,2030.33 403.44,2048.43" fill="#e6e6c6" opacity="1"/><ellipse cx="385.64" cy="2036.36" rx="16.62" ry="7.54" fill="#f2f0ea" opacity="1" transform="rotate(-20 385.64 2036.36)"/><ellipse cx="423.62" cy="2018.27" rx="3.56" ry="3.02" fill="#b07070" opacity="1" transform="rotate(0 423.62 2018.27)"/></g></g>
<rect x="647.5" y="1872.2" width="130" height="103.2" fill="#111" />
<clipPath id="ph15"><rect x="653.5" y="1877.7" width="118.5" height="92.2"/></clipPath>
<g clip-path="url(#ph15)"><g filter="url(#pb)"><rect x="647.5" y="1871.7" width="130.5" height="104.2" fill="#48c2c8"/><polygon points="653.5,1877.7 694.98,1877.7 706.83,1909.97 689.05,1933.02 653.5,1928.41" fill="#2f9aa2" opacity="1"/><polygon points="659.42,1886.92 689.05,1896.14 683.12,1905.36 655.87,1900.75" fill="#1c6e78" opacity="0.8"/><polygon points="736.45,1900.75 772,1896.14 772,1928.41 742.38,1933.02" fill="#58ccd0" opacity="1"/><polygon points="653.5,1944.08 691.42,1934.86 700.9,1969.9 653.5,1969.9" fill="#3a3028" opacity="1"/><polygon points="718.67,1934.86 748.3,1923.8 772,1942.24 772,1969.9 724.6,1969.9" fill="#b6c4e4" opacity="1"/><polygon points="736.45,1944.08 766.08,1951.46 760.15,1962.52 734.08,1956.99" fill="#eef2fa" opacity="1"/><polygon points="722.23,1882.31 736.45,1877.7 724.6,1928.41 708.01,1969.9 696.16,1969.9 710.38,1923.8" fill="#e6aacb" opacity="1"/><polygon points="738.82,1877.7 772,1877.7 772,1894.3 748.3,1905.36" fill="#f0dce0" opacity="1"/><ellipse cx="712.75" cy="1912.74" rx="7.11" ry="4.61" fill="#8aa0b0" opacity="1" transform="rotate(0 712.75 1912.74)"/></g></g>
<rect x="643.7" y="1981.1" width="134.8" height="102.4" fill="#111" />
<clipPath id="ph16"><rect x="649.7" y="1986.6" width="123.3" height="91.4"/></clipPath>
<g clip-path="url(#ph16)"><g filter="url(#pb2)"><rect x="643.7" y="1980.6" width="135.3" height="103.4" fill="#f7f7f6"/><polygon points="655.87,1997.57 766.84,1997.57 763.14,2064.29 659.56,2064.29" fill="#e9ebee" opacity="1"/><polygon points="655.87,1997.57 766.84,1997.57 766.84,2004.88 655.87,2004.88" fill="#d6dae0" opacity="1"/><polygon points="662.03,2052.41 760.67,2052.41 760.67,2065.2 662.03,2065.2" fill="#dcc4a4" opacity="1"/><ellipse cx="696.55" cy="2048.75" rx="14.8" ry="6.4" fill="#a8988c" opacity="1" transform="rotate(0 696.55 2048.75)"/><ellipse cx="726.15" cy="2036.87" rx="6.16" ry="15.54" fill="#c4b0a4" opacity="1" transform="rotate(0 726.15 2036.87)"/><ellipse cx="723.68" cy="2024.99" rx="6.16" ry="4.57" fill="#cbb8ac" opacity="1" transform="rotate(0 723.68 2024.99)"/></g></g>
<rect x="920" y="1927.6" width="129.5" height="102.9" fill="#111" />
<clipPath id="ph17"><rect x="926" y="1933.1" width="118" height="91.9"/></clipPath>
<g clip-path="url(#ph17)"><g filter="url(#pb)"><rect x="920" y="1927.1" width="130" height="103.9" fill="#48c2c8"/><polygon points="926,1933.1 967.3,1933.1 979.1,1965.26 961.4,1988.24 926,1983.64" fill="#2f9aa2" opacity="1"/><polygon points="931.9,1942.29 961.4,1951.48 955.5,1960.67 928.36,1956.07" fill="#1c6e78" opacity="0.8"/><polygon points="1008.6,1956.07 1044,1951.48 1044,1983.64 1014.5,1988.24" fill="#58ccd0" opacity="1"/><polygon points="926,1999.27 963.76,1990.08 973.2,2025 926,2025" fill="#3a3028" opacity="1"/><polygon points="990.9,1990.08 1020.4,1979.05 1044,1997.43 1044,2025 996.8,2025" fill="#b6c4e4" opacity="1"/><polygon points="1008.6,1999.27 1038.1,2006.62 1032.2,2017.65 1006.24,2012.13" fill="#eef2fa" opacity="1"/><polygon points="994.44,1937.69 1008.6,1933.1 996.8,1983.64 980.28,2025 968.48,2025 982.64,1979.05" fill="#e6aacb" opacity="1"/><polygon points="1010.96,1933.1 1044,1933.1 1044,1949.64 1020.4,1960.67" fill="#f0dce0" opacity="1"/><ellipse cx="985" cy="1968.02" rx="7.08" ry="4.6" fill="#8aa0b0" opacity="1" transform="rotate(0 985 1968.02)"/></g></g>
<clipPath id="cp18"><polygon points="206.4,1956.5 308.5,1956.5 308.5,1936.9 346.4,1975.1 308.5,2013.3 308.5,1993.1 206.4,1993.1"/></clipPath>
<polygon points="206.4,1956.5 308.5,1956.5 308.5,1936.9 346.4,1975.1 308.5,2013.3 308.5,1993.1 206.4,1993.1" fill="#FF6633" stroke="#000" stroke-width="11.2" stroke-linejoin="miter" clip-path="url(#cp18)"/>
<text x="268.3" y="1982.3" font-size="20" font-weight="bold" text-anchor="middle" fill="#7a3a20" opacity="0.55">6 Hours</text>
<text x="267.5" y="1981.5" font-size="20" font-weight="bold" text-anchor="middle" fill="#FFF6EA" >6 Hours</text>
<clipPath id="cp19"><polygon points="497.7,1962 600,1962 600,1941 638,1979 600,2017 600,1999 497.7,1999"/></clipPath>
<polygon points="497.7,1962 600,1962 600,1941 638,1979 600,2017 600,1999 497.7,1999" fill="#FF6633" stroke="#000" stroke-width="11.2" stroke-linejoin="miter" clip-path="url(#cp19)"/>
<text x="561.3" y="1986.2" font-size="20" font-weight="bold" text-anchor="middle" fill="#7a3a20" opacity="0.55">20 Minutes</text>
<text x="560.5" y="1985.4" font-size="20" font-weight="bold" text-anchor="middle" fill="#FFF6EA" >20 Minutes</text>
<clipPath id="cp20"><polygon points="778.5,1956.5 881,1956.5 881,1936.9 919,1975.1 881,2013.3 881,1993.1 778.5,1993.1"/></clipPath>
<polygon points="778.5,1956.5 881,1956.5 881,1936.9 919,1975.1 881,2013.3 881,1993.1 778.5,1993.1" fill="#FF6633" stroke="#000" stroke-width="11.2" stroke-linejoin="miter" clip-path="url(#cp20)"/>
<text x="841.4" y="1982.3" font-size="20" font-weight="bold" text-anchor="middle" fill="#7a3a20" opacity="0.55">60 minutes</text>
<text x="840.6" y="1981.5" font-size="20" font-weight="bold" text-anchor="middle" fill="#FFF6EA" >60 minutes</text>
<clipPath id="cp21"><polygon points="35.7,2091.7 153,2091.7 153,2080.7 136.8,2080.7 161.7,2041.5 186.6,2080.7 170.4,2080.7 170.4,2091.7 288.5,2091.7 288.5,2187 35.7,2187"/></clipPath>
<polygon points="35.7,2091.7 153,2091.7 153,2080.7 136.8,2080.7 161.7,2041.5 186.6,2080.7 170.4,2080.7 170.4,2091.7 288.5,2091.7 288.5,2187 35.7,2187" fill="#FF6633" stroke="#000" stroke-width="11.2" stroke-linejoin="miter" clip-path="url(#cp21)"/>
<text x="162.4" y="2135.2" font-size="20" font-weight="bold" text-anchor="middle" fill="#7a3a20" opacity="0.55">Dexamethasone,</text>
<text x="161.6" y="2134.4" font-size="20" font-weight="bold" text-anchor="middle" fill="#FFF6EA" >Dexamethasone,</text>
<text x="162.4" y="2159.7" font-size="20" font-weight="bold" text-anchor="middle" fill="#7a3a20" opacity="0.55">vehicle, or no injection</text>
<text x="161.6" y="2158.9" font-size="20" font-weight="bold" text-anchor="middle" fill="#FFF6EA" >vehicle, or no injection</text>
<clipPath id="cp22"><polygon points="318,2111 435.9,2111 435.9,2101 424.3,2101 443.8,2070.7 463.3,2101 451.7,2101 451.7,2111 569.7,2111 569.7,2187 318,2187"/></clipPath>
<polygon points="318,2111 435.9,2111 435.9,2101 424.3,2101 443.8,2070.7 463.3,2101 451.7,2101 451.7,2111 569.7,2111 569.7,2187 318,2187" fill="#FF6633" stroke="#000" stroke-width="11.2" stroke-linejoin="miter" clip-path="url(#cp22)"/>
<text x="444.6" y="2146" font-size="20" font-weight="bold" text-anchor="middle" fill="#7a3a20" opacity="0.55">Blood Sampling and</text>
<text x="443.8" y="2145.2" font-size="20" font-weight="bold" text-anchor="middle" fill="#FFF6EA" >Blood Sampling and</text>
<text x="444.6" y="2169.5" font-size="20" font-weight="bold" text-anchor="middle" fill="#7a3a20" opacity="0.55">immobilization</text>
<text x="443.8" y="2168.7" font-size="20" font-weight="bold" text-anchor="middle" fill="#FFF6EA" >immobilization</text>
<clipPath id="cp23"><polygon points="604.5,2120.6 724,2120.6 724,2112 714.5,2112 730.5,2088 746.5,2112 737,2112 737,2120.6 856,2120.6 856,2184 604.5,2184"/></clipPath>
<polygon points="604.5,2120.6 724,2120.6 724,2112 714.5,2112 730.5,2088 746.5,2112 737,2112 737,2120.6 856,2120.6 856,2184 604.5,2184" fill="#FF6633" stroke="#000" stroke-width="11.2" stroke-linejoin="miter" clip-path="url(#cp23)"/>
<text x="730.8" y="2148.9" font-size="20" font-weight="bold" text-anchor="middle" fill="#7a3a20" opacity="0.55">Blood Sampling and</text>
<text x="730" y="2148.1" font-size="20" font-weight="bold" text-anchor="middle" fill="#FFF6EA" >Blood Sampling and</text>
<text x="730.8" y="2172.4" font-size="20" font-weight="bold" text-anchor="middle" fill="#7a3a20" opacity="0.55">return to home cage</text>
<text x="730" y="2171.6" font-size="20" font-weight="bold" text-anchor="middle" fill="#FFF6EA" >return to home cage</text>
<clipPath id="cp24"><polygon points="886,2120.6 970.6,2120.6 970.6,2113 962.4,2113 976.4,2091 990.4,2113 982.2,2113 982.2,2120.6 1066,2120.6 1066,2178.5 886,2178.5"/></clipPath>
<polygon points="886,2120.6 970.6,2120.6 970.6,2113 962.4,2113 976.4,2091 990.4,2113 982.2,2113 982.2,2120.6 1066,2120.6 1066,2178.5 886,2178.5" fill="#FF6633" stroke="#000" stroke-width="11.2" stroke-linejoin="miter" clip-path="url(#cp24)"/>
<text x="976.8" y="2157.2" font-size="20" font-weight="bold" text-anchor="middle" fill="#7a3a20" opacity="0.55">Blood Sampling</text>
<text x="976" y="2156.4" font-size="20" font-weight="bold" text-anchor="middle" fill="#FFF6EA" >Blood Sampling</text>
<path d="M 59.8 331.3 C 70 320 82 311 102.4 299 C 108 296 112 294 116.2 292.9 C 113 286 113 274 118.9 267.5 C 122 263 126 261.5 131 261.6 C 137 261.8 143 263.5 147.7 266.1 L 151.9 264.7 C 165 260 182 257 198.6 256.5 C 212 256 226 257.5 237 258.5 C 241 258.8 243.5 259.5 245.3 260.6 C 248.5 262.5 250.5 265 252.1 267.5 C 256 269.5 259 271 262 273.5 C 276 283 290 296 300.2 308.7 C 306 318 307 330 303 336 C 301 340 299 342.5 296 344.4 C 293 347 290.5 349 287.9 349.9 C 280 352.5 276 353.6 268 354.6 C 258 355.6 246 358 232.9 360.9 L 212.3 365 L 196 367 L 150 350 L 120 342 C 100 333 80 329 59.8 331.3 Z" fill="#f7f7f7" stroke="#000" stroke-width="4.6" stroke-linejoin="round"/>
<path d="M 196 290 C 215 284 240 284 262 292 C 276 300 288 310 296 322 C 288 332 272 336 256 334 C 240 330 224 320 212 306 C 206 300 200 295 196 290 Z" fill="#cfcfcf"/>
<path d="M 160 272 C 178 266 196 264 214 266 C 204 272 190 276 172 280 Z" fill="#d9d9d9"/>
<path d="M 205 338 C 222 342 244 346 266 342 C 276 346 278 351 268 354 C 248 357 228 360 208 360 Z" fill="#d6d6d6"/>
<path d="M 80 322 C 95 316 110 313 122 314 L 130 328 C 114 322 98 321 82 326 Z" fill="#dadada"/>
<path d="M 130 270 C 122 272 119 282 126 288 M 134 276 C 129 278 129 284 134 285" fill="none" stroke="#000" stroke-width="3.4" stroke-linecap="round"/>
<path d="M 154.6 278.5 L 191.7 285.3 M 195.8 267.5 C 212 270 228 275 239.8 279.8 M 242.5 285.3 L 264.5 300.4 M 209.6 289.5 C 218 286 226 285 234.3 285.3 M 215 299 C 222 303 230 303 236 298 M 149 309 L 160 312 L 152 318 L 166 322 L 158 327 L 171 329 M 191.7 336 C 197 342 202 347 205.4 352.6 M 245.3 344.4 C 251 341 257 342 261.8 349.9 M 61.2 329.3 C 75 324 90 321 102.4 320.4 C 110 320 116 321 118.9 322.4 C 124 325 127 327 128.5 327.9 M 126 330 C 121 333 119 338 119 341.6 M 138 306 C 142 314 142 326 136 338 C 133 342 130 344 128.5 345.8" fill="none" stroke="#000" stroke-width="3" stroke-linecap="round" stroke-linejoin="round"/>
<ellipse cx="224.7" cy="294.3" rx="5.2" ry="2.8" fill="#8a6a78" stroke="#000" stroke-width="1.6"/>
<ellipse cx="294" cy="326.5" rx="13" ry="12.4" fill="#151515"/><ellipse cx="292" cy="323" rx="5" ry="3.6" fill="#5a5a5a" opacity="0.6"/>
<path d="M 45 340.3 H 89 Q 97 340.3 97 348 V 394 Q 97 402 89 402 H 45 Q 37.2 402 37.2 394 V 348 Q 37.2 340.3 45 340.3 Z" fill="#000" stroke="#000" stroke-width="17" stroke-linejoin="round"/>
<path d="M 45 340.3 H 89 Q 97 340.3 97 348 V 394 Q 97 402 89 402 H 45 Q 37.2 402 37.2 394 V 348 Q 37.2 340.3 45 340.3 Z" fill="#FF6633" stroke="#FFE9DD" stroke-width="2.6" stroke-linejoin="round"/>
<path d="M 57.8 354.7 H 83.2 V 388.4 H 57.8 Z" fill="#000" stroke="#FFE9DD" stroke-width="2.4"/>
<path d="M 107.9 358.1 H 191.7 V 419.3 H 107.9 Z" fill="#000" stroke="#000" stroke-width="17" stroke-linejoin="round"/>
<path d="M 107.9 358.1 H 140 L 172 398 V 366 H 166 V 358.1 H 191.7 V 366 H 186 V 419.3 H 170 L 128 366 V 411.4 H 134 V 419.3 H 107.9 V 411.4 H 114 V 366 H 107.9 Z" fill="#FF6633" stroke="#FFE9DD" stroke-width="2.6" stroke-linejoin="round"/>
<path d="M 200 375.3 H 268.6 V 424 Q 268.6 439.2 250 439.2 H 220 Q 200 439.2 200 424 Z" fill="#000" stroke="#000" stroke-width="17" stroke-linejoin="round"/>
<path d="M 200 375.3 H 226 V 383 H 220 V 420 Q 220 428 228 428 H 241 Q 249 428 249 420 V 383 H 243 V 375.3 H 268.6 V 383 H 264 V 424 Q 264 439.2 248 439.2 H 221 Q 205 439.2 205 424 V 383 H 200 Z" fill="#FF6633" stroke="#FFE9DD" stroke-width="2.6" stroke-linejoin="round"/>
<path d="M 2991.3 270.4 H 3150.8 C 3110 278 3060 300 3032.5 331.8 H 2991.3 Z" fill="#FF6633"/>
<path d="M 3083.9 331.8 C 3100 312 3135 290 3176 281.3 C 3195 277.5 3210 279 3220 287 C 3230 295 3232.5 305 3232.5 315 V 331.8 Z" fill="#FF6633"/>
<path d="M 3051.2 384.8 H 3203.7 C 3180 410 3150 432 3105.7 444.8 C 3075 442 3051.2 425 3051.2 403.4 Z" fill="#FF6633"/>
<path d="M 3220.9 384.8 H 3258.2 V 445.5 H 3143 C 3180 432 3205 408 3220.9 384.8 Z" fill="#FF6633"/>
<text x="2991" y="377" font-size="56" style="font-family:'Liberation Serif',serif" textLength="270" lengthAdjust="spacingAndGlyphs">NORTHERN</text>
<text x="3264" y="445.5" font-size="8" font-weight="bold" >TM</text>
<path d="M 1172 1986.6 H 1298.8 L 1332 2049 L 1298.8 2111.7 H 1172 Q 1160 2111.7 1160 2099.7 V 1998.6 Q 1160 1986.6 1172 1986.6 Z" fill="#595a5e"/>
<path d="M 1307 1986.6 H 1321 Q 1326 1987 1329 1992 L 1358.3 2049 L 1329 2106.3 Q 1326 2111.4 1321 2111.7 H 1307 L 1341.5 2049 Z" fill="#d0183a"/>
<text x="1177" y="2079" font-size="80" font-weight="bold" fill="#fff" textLength="122.5" lengthAdjust="spacingAndGlyphs">NIH</text>
<text x="1372.4" y="2040.5" font-size="33" fill="#58595b" textLength="347" lengthAdjust="spacingAndGlyphs">National Heart, Lung,</text>
<text x="1372.4" y="2081" font-size="33" fill="#58595b" textLength="313" lengthAdjust="spacingAndGlyphs">and Blood Institute</text>
</svg>
</body></html>
